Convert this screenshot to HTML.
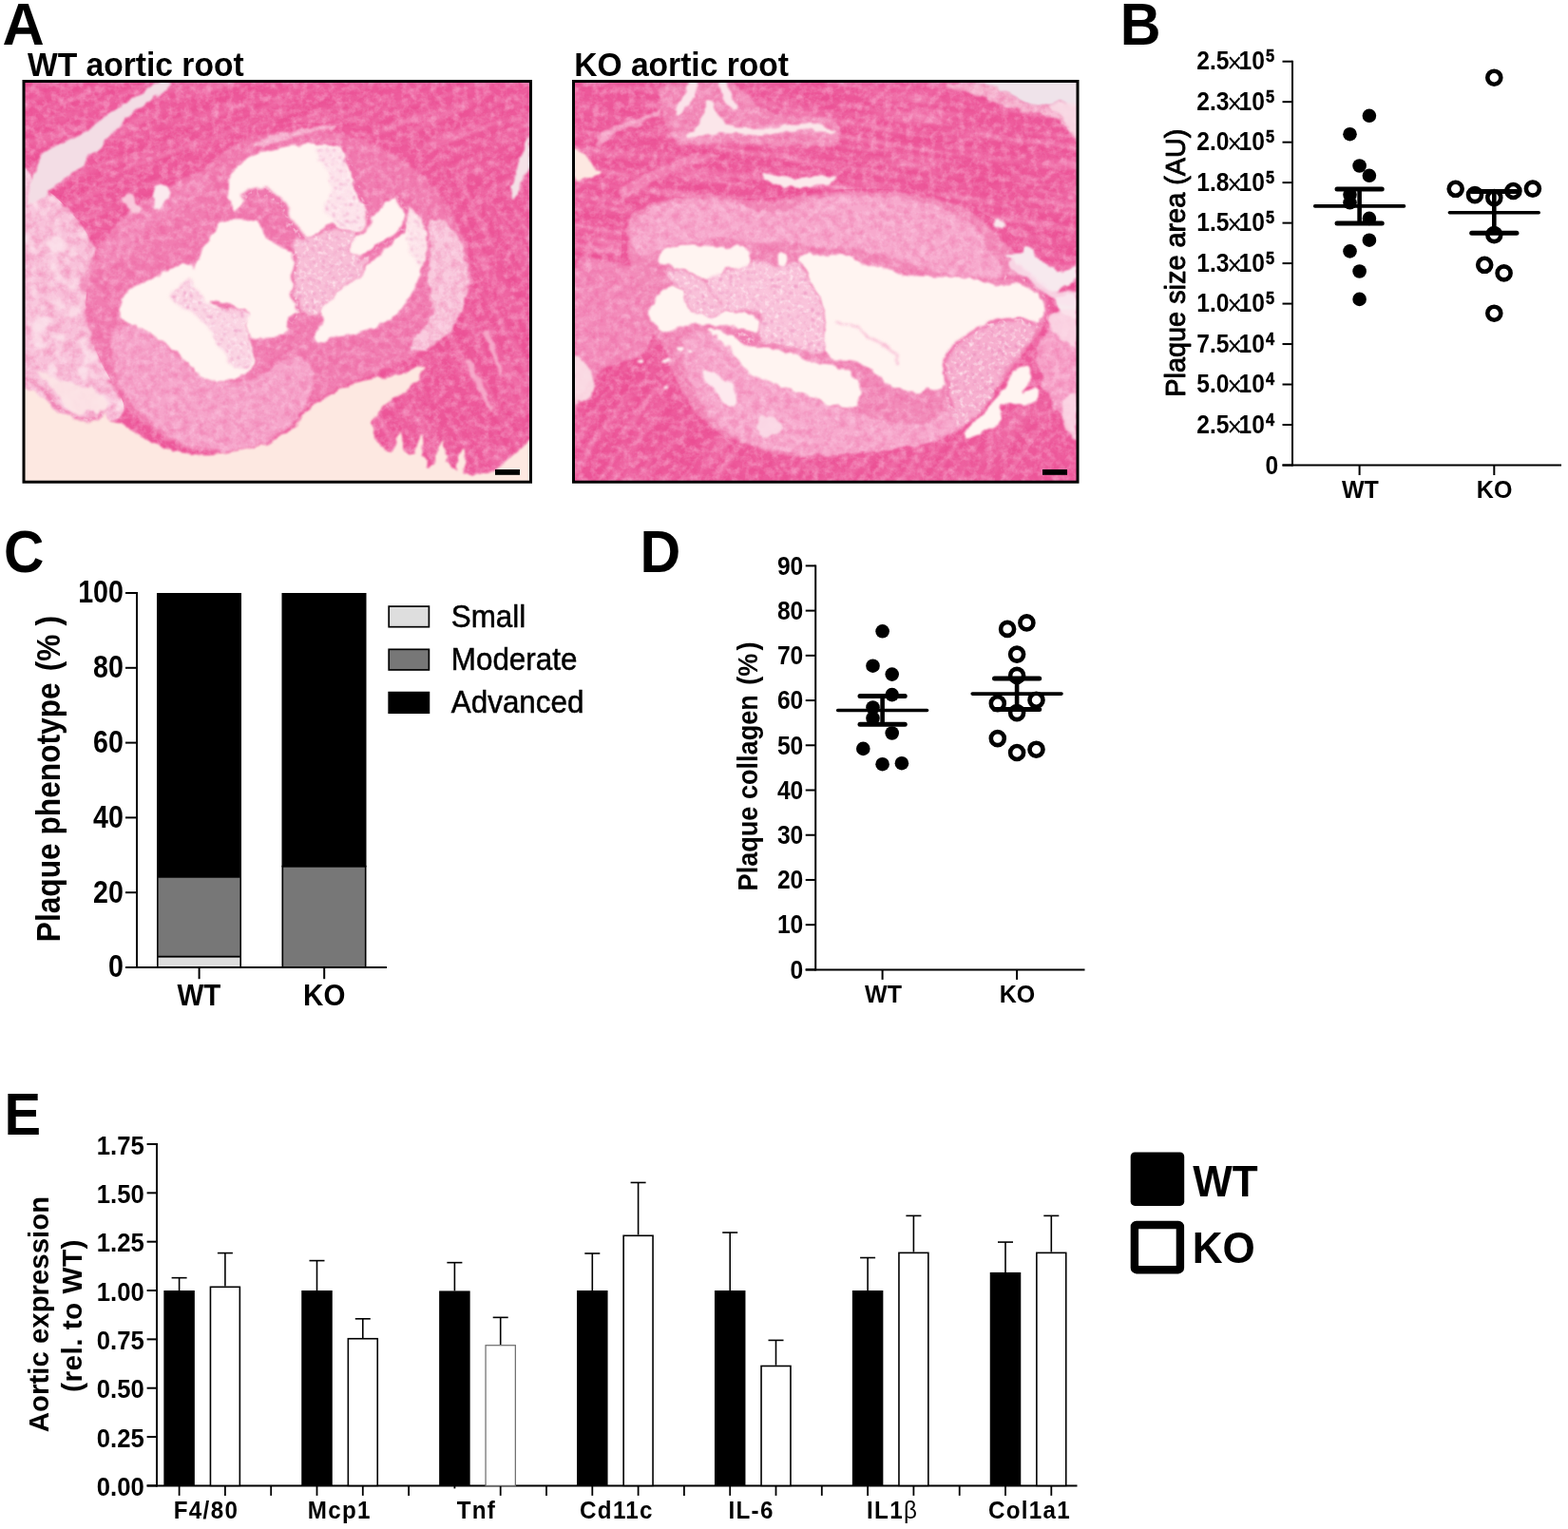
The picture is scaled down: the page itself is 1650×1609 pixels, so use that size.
<!DOCTYPE html>
<html lang="en">
<head>
<meta charset="utf-8">
<title>Figure</title>
<style>
html,body{margin:0;padding:0;background:#fff;}
body{width:1650px;height:1609px;overflow:hidden;}
svg{display:block;font-family:'Liberation Sans', Arial, Helvetica, sans-serif;}
svg text{fill:#000;}
</style>
</head>
<body>
<svg width="1650" height="1609" viewBox="0 0 1650 1609">
<rect width="1650" height="1609" fill="#ffffff"/>
<text transform="translate(2.5 46.5) scale(0.972 1)" font-size="63.0" font-weight="bold">A</text>
<text transform="translate(1178.8 47.0) scale(0.946 1)" font-size="62.6" font-weight="bold">B</text>
<text transform="translate(3.9 601.9) scale(0.937 1)" font-size="62.6" font-weight="bold">C</text>
<text transform="translate(673.6 601.9) scale(0.946 1)" font-size="62.6" font-weight="bold">D</text>
<text transform="translate(4.6 1193.8) scale(0.925 1)" font-size="62.6" font-weight="bold">E</text>
<text transform="translate(29.0 79.6) scale(1 1.04)" font-size="33.6" font-weight="bold" text-anchor="start">WT aortic root</text>
<text transform="translate(604.2 79.6) scale(1 1.04)" font-size="33.6" font-weight="bold" text-anchor="start">KO aortic root</text>
<defs>
<clipPath id="c1"><rect x="25" y="86" width="533.5" height="420.5"/></clipPath>
<clipPath id="c2"><rect x="603.5" y="86" width="530" height="420.5"/></clipPath>
<filter id="soft" x="-5%" y="-5%" width="110%" height="110%" color-interpolation-filters="sRGB">
  <feTurbulence type="fractalNoise" baseFrequency="0.09" numOctaves="2" seed="7" result="t"/>
  <feDisplacementMap in="SourceGraphic" in2="t" scale="8" xChannelSelector="R" yChannelSelector="G" result="d"/>
  <feGaussianBlur in="d" stdDeviation="1.3"/>
</filter>
<filter id="soft2" x="-5%" y="-5%" width="110%" height="110%" color-interpolation-filters="sRGB">
  <feTurbulence type="fractalNoise" baseFrequency="0.05" numOctaves="2" seed="3" result="t"/>
  <feDisplacementMap in="SourceGraphic" in2="t" scale="14" xChannelSelector="R" yChannelSelector="G" result="d"/>
  <feGaussianBlur in="d" stdDeviation="3"/>
</filter>
<filter id="grainL" x="0" y="0" width="100%" height="100%" color-interpolation-filters="sRGB">
  <feTurbulence type="fractalNoise" baseFrequency="0.13" numOctaves="3" seed="11" result="n"/>
  <feColorMatrix in="n" type="matrix" values="0 0 0 0 1  0 0 0 0 0.86  0 0 0 0 0.93  2.2 0 0 0 -0.85"/>
  <feGaussianBlur stdDeviation="0.7"/>
</filter>
<filter id="grainD" x="0" y="0" width="100%" height="100%" color-interpolation-filters="sRGB">
  <feTurbulence type="fractalNoise" baseFrequency="0.12" numOctaves="3" seed="23" result="n"/>
  <feColorMatrix in="n" type="matrix" values="0 0 0 0 0.91  0 0 0 0 0.24  0 0 0 0 0.54  0 2.2 0 0 -0.85"/>
  <feGaussianBlur stdDeviation="0.7"/>
</filter>
<filter id="speck" x="0" y="0" width="100%" height="100%" color-interpolation-filters="sRGB">
  <feTurbulence type="fractalNoise" baseFrequency="0.3" numOctaves="2" seed="5" result="n"/>
  <feColorMatrix in="n" type="matrix" values="0 0 0 0 0.93  0 0 0 0 0.45  0 0 0 0 0.68  0 0 3.4 0 -1.55" result="s"/>
  <feGaussianBlur in="s" stdDeviation="0.5" result="sb"/>
  <feComposite in="sb" in2="SourceGraphic" operator="in"/>
</filter>
<filter id="fiber" x="0" y="0" width="100%" height="100%" color-interpolation-filters="sRGB">
  <feTurbulence type="fractalNoise" baseFrequency="0.01 0.13" numOctaves="3" seed="4" result="n"/>
  <feColorMatrix in="n" type="matrix" values="0 0 0 0 0.99  0 0 0 0 0.80  0 0 0 0 0.89  3 0 0 0 -1.35"/>
  <feGaussianBlur stdDeviation="0.8"/>
</filter>
<filter id="fiberD" x="0" y="0" width="100%" height="100%" color-interpolation-filters="sRGB">
  <feTurbulence type="fractalNoise" baseFrequency="0.01 0.11" numOctaves="3" seed="9" result="n"/>
  <feColorMatrix in="n" type="matrix" values="0 0 0 0 0.90  0 0 0 0 0.20  0 0 0 0 0.50  0 3 0 0 -1.3"/>
  <feGaussianBlur stdDeviation="0.8"/>
</filter>
<filter id="mottle" x="0" y="0" width="100%" height="100%" color-interpolation-filters="sRGB">
  <feTurbulence type="fractalNoise" baseFrequency="0.06" numOctaves="3" seed="31" result="n"/>
  <feColorMatrix in="n" type="matrix" values="0 0 0 0 0.99  0 0 0 0 0.90  0 0 0 0 0.93  4 0 0 0 -1.9" result="m"/>
  <feGaussianBlur in="m" stdDeviation="1" result="mb"/>
  <feComposite in="mb" in2="SourceGraphic" operator="in"/>
</filter>
<filter id="cells" x="-5%" y="-5%" width="110%" height="110%" color-interpolation-filters="sRGB">
  <feTurbulence type="fractalNoise" baseFrequency="0.09" numOctaves="2" seed="7" result="t"/>
  <feDisplacementMap in="SourceGraphic" in2="t" scale="8" xChannelSelector="R" yChannelSelector="G" result="d"/>
  <feGaussianBlur in="d" stdDeviation="1.5" result="b"/>
  <feTurbulence type="fractalNoise" baseFrequency="0.28" numOctaves="2" seed="15" result="n"/>
  <feColorMatrix in="n" type="matrix" values="0 0 0 0 0.88  0 0 0 0 0.40  0 0 0 0 0.66  0 0 3.0 0 -1.72" result="s"/>
  <feGaussianBlur in="s" stdDeviation="0.8" result="sb"/>
  <feComposite in="sb" in2="b" operator="in" result="sp"/>
  <feTurbulence type="fractalNoise" baseFrequency="0.2" numOctaves="2" seed="25" result="n2"/>
  <feColorMatrix in="n2" type="matrix" values="0 0 0 0 1  0 0 0 0 0.95  0 0 0 0 0.96  2.0 0 0 0 -1.0" result="w"/>
  <feGaussianBlur in="w" stdDeviation="0.6" result="wb"/>
  <feComposite in="wb" in2="b" operator="in" result="wp"/>
  <feMerge><feMergeNode in="b"/><feMergeNode in="wp"/><feMergeNode in="sp"/></feMerge>
</filter>
</defs>
<g clip-path="url(#c1)">
<rect x="24" y="85" width="536" height="423" fill="#ee5c9d"/>
<clipPath id="m1a"><path d="M13.3,75.3C108.9,55.9 491.1,57.6 586.7,75.3C682.2,93.1 597.8,159.8 586.7,182.0C575.6,204.2 542.2,211.4 520.0,208.7C497.8,205.9 475.6,177.0 453.3,165.3C431.1,153.7 408.9,144.8 386.7,138.7C364.4,132.6 342.2,128.7 320.0,128.7C297.8,128.7 272.2,132.0 253.3,138.7C234.4,145.3 222.2,155.9 206.7,168.7C191.1,181.4 174.4,203.7 160.0,215.3C145.6,227.0 132.2,235.9 120.0,238.7C107.8,241.4 97.8,238.1 86.7,232.0C75.6,225.9 65.6,208.7 53.3,202.0C41.1,195.3 20.0,213.1 13.3,192.0C6.7,170.9 -82.2,94.8 13.3,75.3Z"/></clipPath>
<g clip-path="url(#m1a)">
<g transform="rotate(-22 290 150)">
<rect x="-160.0" y="-100.0" width="900" height="500" fill="#fff" filter="url(#fiber)" opacity="0.3"/>
<rect x="-160.0" y="-100.0" width="900" height="500" fill="#fff" filter="url(#fiberD)" opacity="0.2"/>
</g>
</g>
<clipPath id="m1b"><path d="M453.3,165.3C460.0,165.3 497.8,205.9 520.0,208.7C542.2,211.4 575.6,130.9 586.7,182.0C597.8,233.1 620.0,459.8 586.7,515.3C553.3,570.9 420.0,532.0 386.7,515.3C353.3,498.7 375.6,439.8 386.7,415.3C397.8,390.9 435.6,385.3 453.3,368.7C471.1,352.0 486.1,334.2 493.3,315.3C500.6,296.4 498.9,273.1 496.7,255.3C494.4,237.6 487.2,223.7 480.0,208.7C472.8,193.7 446.7,165.3 453.3,165.3Z"/></clipPath>
<g clip-path="url(#m1b)">
<g transform="rotate(62 480 350)">
<rect x="130.0" y="100.0" width="700" height="500" fill="#fff" filter="url(#fiber)" opacity="0.3"/>
<rect x="130.0" y="100.0" width="700" height="500" fill="#fff" filter="url(#fiberD)" opacity="0.2"/>
</g>
</g>
<g filter="url(#soft)">
<path d="M20.0,192.0C23.3,156.4 33.3,192.6 40.0,195.3C46.7,198.1 52.2,201.4 60.0,208.7C67.8,215.9 80.0,228.7 86.7,238.7C93.3,248.7 99.2,258.1 100.0,268.7C100.8,279.2 93.1,289.8 91.7,302.0C90.3,314.2 89.2,328.7 91.7,342.0C94.2,355.3 100.3,368.1 106.7,382.0C113.1,395.9 127.8,415.3 130.0,425.3C132.2,435.3 127.2,438.1 120.0,442.0C112.8,445.9 97.8,450.3 86.7,448.7C75.6,447.0 64.4,438.7 53.3,432.0C42.2,425.3 25.6,448.7 20.0,408.7C14.4,368.7 16.7,227.6 20.0,192.0Z" fill="#f8c0d9"/>
<path d="M253.3,148.7C270.0,142.3 297.8,137.0 320.0,137.0C342.2,137.0 367.2,141.7 386.7,148.7C406.1,155.6 422.8,167.6 436.7,178.7C450.6,189.8 461.1,202.6 470.0,215.3C478.9,228.1 486.1,242.0 490.0,255.3C493.9,268.7 495.0,282.0 493.3,295.3C491.7,308.7 486.7,324.2 480.0,335.3C473.3,346.4 463.3,354.2 453.3,362.0C443.3,369.8 433.9,375.3 420.0,382.0C406.1,388.7 383.9,395.9 370.0,402.0C356.1,408.1 345.0,413.7 336.7,418.7C328.3,423.7 325.6,426.4 320.0,432.0C314.4,437.6 311.7,445.3 303.3,452.0C295.0,458.7 281.7,467.8 270.0,472.0C258.3,476.2 246.1,477.3 233.3,477.0C220.6,476.7 205.6,474.5 193.3,470.3C181.1,466.2 170.6,459.5 160.0,452.0C149.4,444.5 138.9,437.0 130.0,425.3C121.1,413.7 113.3,395.9 106.7,382.0C100.0,368.1 93.6,354.2 90.0,342.0C86.4,329.8 84.4,319.2 85.0,308.7C85.6,298.1 87.5,288.7 93.3,278.7C99.2,268.7 110.0,257.6 120.0,248.7C130.0,239.8 141.1,233.7 153.3,225.3C165.6,217.0 182.2,207.0 193.3,198.7C204.4,190.3 210.0,183.7 220.0,175.3C230.0,167.0 236.7,155.1 253.3,148.7Z" fill="#f28bb9" fill-opacity="0.7"/>
<path d="M130.0,268.7C138.3,261.4 149.4,247.6 160.0,238.7C170.6,229.8 183.3,223.1 193.3,215.3C203.3,207.6 217.8,197.6 220.0,192.0C222.2,186.4 213.9,180.9 206.7,182.0C199.4,183.1 186.7,193.1 176.7,198.7C166.7,204.2 156.1,208.7 146.7,215.3C137.2,222.0 127.2,230.9 120.0,238.7C112.8,246.4 105.0,254.8 103.3,262.0C101.7,269.2 105.6,280.9 110.0,282.0C114.4,283.1 121.7,275.9 130.0,268.7Z" fill="#f491be" fill-opacity="0.8"/>
<path d="M120.0,348.7C123.3,340.9 132.8,340.9 140.0,342.0C147.2,343.1 155.6,349.8 163.3,355.3C171.1,360.9 179.4,369.2 186.7,375.3C193.9,381.4 198.9,387.6 206.7,392.0C214.4,396.4 223.3,400.9 233.3,402.0C243.3,403.1 256.7,402.0 266.7,398.7C276.7,395.3 285.6,385.9 293.3,382.0C301.1,378.1 307.2,373.7 313.3,375.3C319.4,377.0 328.9,383.1 330.0,392.0C331.1,400.9 324.4,419.2 320.0,428.7C315.6,438.1 311.7,442.0 303.3,448.7C295.0,455.3 281.7,464.5 270.0,468.7C258.3,472.8 246.1,473.9 233.3,473.7C220.6,473.4 205.0,471.2 193.3,467.0C181.7,462.8 172.8,456.2 163.3,448.7C153.9,441.2 143.9,432.0 136.7,422.0C129.4,412.0 122.8,400.9 120.0,388.7C117.2,376.4 116.7,356.4 120.0,348.7Z" fill="#f6a4ca"/>
<path d="M449.8,234.4C452.0,230.7 459.8,228.8 464.8,230.7C469.7,232.5 475.6,238.8 479.7,245.6C483.7,252.4 487.0,263.0 489.0,271.7C491.0,280.4 492.1,289.1 491.8,297.8C491.5,306.5 489.8,316.1 487.1,323.9C484.5,331.7 480.3,338.5 475.9,344.4C471.6,350.3 466.6,355.0 461.0,359.3C455.4,363.7 447.4,369.6 442.4,370.5C437.4,371.5 431.2,368.3 431.2,364.9C431.2,361.5 438.3,355.6 442.4,350.0C446.4,344.4 453.6,337.6 455.4,331.4C457.3,325.2 454.2,318.9 453.6,312.7C453.0,306.5 451.7,300.9 451.7,294.1C451.7,287.2 453.6,278.5 453.6,271.7C453.6,264.9 452.3,259.3 451.7,253.1C451.1,246.8 447.7,238.1 449.8,234.4Z" fill="#fad3e2" fill-opacity="0.9"/>
<path d="M267.3,150.7C269.5,148.8 278.2,146.1 283.6,144.2C289.1,142.3 294.5,140.6 300.0,139.3C305.5,137.9 310.4,137.1 316.4,136.0C322.4,134.9 330.0,133.5 336.0,132.7C342.0,131.9 350.2,130.5 352.4,131.1C354.5,131.6 352.9,134.6 349.1,136.0C345.3,137.4 336.0,137.9 329.5,139.3C322.9,140.6 316.4,142.3 309.8,144.2C303.3,146.1 296.7,148.8 290.2,150.7C283.6,152.6 274.4,155.6 270.5,155.6C266.7,155.6 265.1,152.6 267.3,150.7Z" fill="#f8c3da" fill-opacity="0.8"/>
</g>
<rect x="24" y="85" width="536" height="423" fill="#fff" filter="url(#grainL)" opacity="0.38"/>
<rect x="24" y="85" width="536" height="423" fill="#fff" filter="url(#grainD)" opacity="0.26"/>
<path d="M20.0,192.0C23.3,156.4 33.3,192.6 40.0,195.3C46.7,198.1 52.2,201.4 60.0,208.7C67.8,215.9 80.0,228.7 86.7,238.7C93.3,248.7 99.2,258.1 100.0,268.7C100.8,279.2 93.1,289.8 91.7,302.0C90.3,314.2 89.2,328.7 91.7,342.0C94.2,355.3 100.3,368.1 106.7,382.0C113.1,395.9 127.8,415.3 130.0,425.3C132.2,435.3 127.2,438.1 120.0,442.0C112.8,445.9 97.8,450.3 86.7,448.7C75.6,447.0 64.4,438.7 53.3,432.0C42.2,425.3 25.6,448.7 20.0,408.7C14.4,368.7 16.7,227.6 20.0,192.0Z" fill="#fff" filter="url(#mottle)" opacity="0.8"/>
<g filter="url(#soft)">
<path d="M12.5,406.5C13.0,390.3 22.1,407.3 25.6,408.3C29.1,409.3 35.2,411.9 38.6,413.9C42.1,415.9 48.7,420.7 51.7,423.2C54.7,425.7 57.8,430.6 61.0,432.6C64.3,434.5 72.0,436.8 75.9,438.1C79.9,439.5 87.1,442.6 90.9,442.8C94.6,443.1 101.4,441.1 103.9,440.0C106.4,438.9 108.3,434.2 109.5,434.4C110.7,434.7 111.2,440.4 113.2,441.9C115.2,443.4 120.9,444.1 124.4,445.6C127.9,447.1 135.4,450.8 139.3,453.1C143.3,455.3 149.8,459.9 154.2,462.4C158.7,464.9 167.9,469.8 172.9,471.7C177.9,473.6 185.8,475.5 191.5,476.4C197.3,477.2 208.8,478.4 215.8,478.2C222.7,478.1 236.3,476.6 243.7,475.4C251.2,474.3 265.5,471.6 271.7,469.8C277.9,468.1 285.9,464.6 290.4,462.4C294.8,460.2 302.0,455.6 305.3,453.1C308.5,450.6 314.0,444.5 314.6,443.7C315.2,443.0 309.1,448.3 309.8,447.3C310.5,446.2 317.2,438.4 319.6,435.8C322.0,433.2 325.2,429.8 327.8,427.6C330.4,425.5 335.8,421.6 339.3,419.5C342.8,417.3 349.9,413.2 354.0,411.3C358.1,409.3 366.0,406.3 370.4,404.7C374.7,403.2 382.1,400.9 386.7,399.8C391.3,398.7 400.1,397.4 404.7,396.5C409.3,395.7 416.9,394.4 421.1,393.3C425.2,392.2 432.5,389.5 435.8,388.4C439.1,387.3 444.5,384.4 445.6,385.1C446.7,385.7 444.9,391.1 444.0,393.3C443.1,395.5 441.1,399.5 439.1,401.5C437.1,403.4 432.1,406.0 429.3,408.0C426.4,410.0 420.9,413.8 417.8,416.2C414.8,418.6 409.2,423.4 406.4,426.0C403.5,428.6 398.7,433.2 396.5,435.8C394.4,438.4 390.4,443.0 390.0,445.6C389.6,448.3 392.2,452.8 393.3,455.5C394.4,458.1 396.4,462.9 398.2,465.3C399.9,467.7 404.2,471.9 406.4,473.5C408.5,475.0 412.1,476.7 414.5,476.7C416.9,476.7 422.2,473.2 424.4,473.5C426.5,473.7 428.9,477.9 430.9,478.4C432.9,478.8 436.9,476.1 439.1,476.7C441.3,477.4 445.7,481.3 447.3,483.3C448.8,485.2 449.2,490.8 450.5,491.5C451.9,492.1 455.3,489.3 457.1,488.2C458.8,487.1 461.7,483.3 463.6,483.3C465.6,483.3 469.6,486.7 471.8,488.2C474.0,489.7 477.6,493.3 480.0,494.7C482.4,496.1 487.0,498.2 489.8,498.8C492.7,499.5 498.2,500.0 501.3,499.6C504.3,499.3 510.1,497.2 512.7,496.4C515.3,495.5 518.3,494.6 520.9,493.1C523.5,491.6 529.5,487.1 532.4,484.9C535.2,482.7 539.8,478.7 542.2,476.7C544.6,474.8 547.3,472.1 550.4,470.2C553.4,468.2 561.4,456.3 565.1,462.0C568.8,467.7 650.6,503.8 578.2,512.7C505.7,521.7 97.2,543.3 21.8,529.1C-53.6,514.9 12.0,422.6 12.5,406.5Z" fill="#fde8e1"/>
<path d="M412.9,478.4C412.4,476.4 416.6,466.9 417.8,463.6C419.0,460.4 421.0,453.8 421.9,453.8C422.8,453.8 424.4,460.4 424.4,463.6C424.4,466.9 423.4,476.4 421.9,478.4C420.4,480.3 413.5,480.3 412.9,478.4Z" fill="#fde8e1"/>
<path d="M435.8,480.0C435.4,477.8 438.0,468.3 439.1,465.3C440.2,462.2 443.1,456.4 444.0,457.1C444.9,457.7 445.9,466.9 445.6,470.2C445.4,473.5 443.7,480.3 442.4,481.6C441.1,482.9 436.3,482.2 435.8,480.0Z" fill="#fde8e1"/>
<path d="M457.1,491.5C456.5,489.1 460.1,477.2 461.2,473.5C462.3,469.7 464.3,463.2 465.3,463.6C466.3,464.1 468.5,473.0 468.5,476.7C468.5,480.4 466.8,489.5 465.3,491.5C463.7,493.4 457.6,493.9 457.1,491.5Z" fill="#fde8e1"/>
<path d="M480.0,496.4C479.6,494.0 482.2,483.3 483.3,480.0C484.4,476.7 487.3,471.2 488.2,471.8C489.1,472.5 490.0,481.4 489.8,484.9C489.6,488.4 487.9,496.5 486.5,498.0C485.2,499.5 480.4,498.8 480.0,496.4Z" fill="#fde8e1"/>
<path d="M493.1,378.5C495.0,380.2 498.3,386.2 501.3,391.6C504.3,397.1 508.4,404.7 511.1,411.3C513.8,417.8 517.1,427.4 517.6,430.9C518.2,434.5 516.3,435.3 514.4,432.5C512.5,429.8 509.2,420.8 506.2,414.5C503.2,408.3 499.1,400.4 496.4,394.9C493.6,389.5 490.4,384.5 489.8,381.8C489.3,379.1 491.2,376.9 493.1,378.5Z" fill="#f7b5d1" fill-opacity="0.8"/>
<path d="M512.7,349.1C514.6,351.8 518.2,361.6 520.9,368.7C523.6,375.8 528.3,387.5 529.1,391.6C529.9,395.7 527.7,396.5 525.8,393.3C523.9,390.0 520.4,378.8 517.6,372.0C514.9,365.2 510.3,356.2 509.5,352.4C508.6,348.5 510.8,346.4 512.7,349.1Z" fill="#f7b5d1" fill-opacity="0.8"/>
<path d="M38.6,391.5C40.5,390.9 51.1,395.0 57.3,397.1C63.5,399.3 69.7,402.7 75.9,404.6C82.2,406.5 89.3,406.5 94.6,408.3C99.9,410.2 104.5,413.0 107.6,415.8C110.7,418.6 113.2,422.0 113.2,425.1C113.2,428.2 110.7,433.2 107.6,434.4C104.5,435.7 98.9,432.2 94.6,432.6C90.2,432.9 85.3,436.6 81.5,436.3C77.8,436.0 75.0,433.2 72.2,430.7C69.4,428.2 67.2,424.8 64.7,421.4C62.3,418.0 60.4,413.6 57.3,410.2C54.2,406.8 49.2,404.0 46.1,400.9C43.0,397.8 36.8,392.2 38.6,391.5Z" fill="#fce4e6" fill-opacity="0.9"/>
<path d="M240.1,191.5C241.6,187.5 244.6,181.0 248.5,176.6C252.4,172.3 257.5,168.5 263.4,165.4C269.3,162.3 276.4,160.0 283.9,158.0C291.4,155.9 300.4,154.3 308.1,153.3C315.9,152.3 324.0,152.2 330.5,152.0C337.0,151.8 342.6,151.7 347.3,152.4C352.0,153.1 355.7,153.9 358.5,156.1C361.3,158.3 362.5,161.7 364.1,165.4C365.6,169.2 366.6,173.8 367.8,178.5C369.1,183.1 370.0,188.4 371.5,193.4C373.1,198.4 375.0,204.0 377.1,208.3C379.3,212.7 382.7,215.8 384.6,219.5C386.5,223.2 388.3,227.0 388.3,230.7C388.3,234.4 386.8,239.4 384.6,241.9C382.4,244.4 378.7,245.9 375.3,245.6C371.8,245.3 368.4,241.6 364.1,240.0C359.7,238.5 353.5,236.0 349.2,236.3C344.8,236.6 341.4,239.7 338.0,241.9C334.6,244.0 331.8,248.1 328.7,249.3C325.5,250.6 322.4,250.6 319.3,249.3C316.2,248.1 312.5,245.0 310.0,241.9C307.5,238.8 306.0,234.4 304.4,230.7C302.9,227.0 302.5,222.9 300.7,219.5C298.8,216.1 296.3,213.0 293.2,210.2C290.1,207.4 285.8,204.3 282.0,202.7C278.3,201.2 274.3,200.5 270.9,200.9C267.4,201.2 263.7,202.7 261.5,204.6C259.4,206.4 259.4,209.9 257.8,212.0C256.2,214.2 254.1,216.1 252.2,217.6C250.3,219.2 248.2,222.3 246.6,221.4C245.1,220.4 244.1,215.5 242.9,212.0C241.6,208.6 239.6,204.3 239.2,200.9C238.7,197.4 238.5,195.6 240.1,191.5Z" fill="#fff4f1"/>
<path d="M232.6,233.5C236.7,231.2 243.0,231.8 248.5,231.6C253.9,231.4 261.4,231.6 265.3,232.2C269.1,232.8 269.9,233.4 271.8,235.3C273.6,237.3 274.1,240.6 276.4,243.7C278.8,246.8 282.3,251.2 285.8,254.0C289.2,256.8 293.1,258.5 297.0,260.5C300.8,262.5 306.6,263.3 309.1,266.1C311.6,268.9 312.2,273.6 311.9,277.3C311.6,281.0 307.5,284.4 307.2,288.5C306.9,292.5 310.0,297.5 310.0,301.5C310.0,305.6 306.9,309.6 307.2,312.7C307.5,315.8 310.3,317.7 311.9,320.2C313.4,322.7 317.2,325.6 316.5,327.6C315.9,329.7 310.5,330.1 308.1,332.3C305.8,334.5 303.3,337.9 302.5,340.7C301.8,343.5 305.0,346.9 303.5,349.1C301.9,351.3 297.1,352.7 293.2,353.7C289.3,354.8 284.5,355.1 280.2,355.6C275.8,356.1 270.2,357.5 267.1,356.5C264.0,355.6 263.1,353.0 261.5,350.0C260.0,347.1 257.8,342.6 257.8,338.8C257.8,335.1 262.2,330.1 261.5,327.6C260.9,325.2 256.9,325.2 254.1,323.9C251.3,322.7 247.9,321.1 244.7,320.2C241.6,319.2 238.2,318.9 235.4,318.3C232.6,317.7 230.5,316.5 228.0,316.5C225.5,316.5 222.4,316.8 220.5,318.3C218.6,319.9 218.3,324.8 216.8,325.8C215.2,326.7 213.1,326.1 211.2,323.9C209.3,321.7 207.0,317.1 205.6,312.7C204.2,308.4 203.1,302.5 202.8,297.8C202.5,293.1 202.6,289.1 203.7,284.8C204.8,280.4 207.1,276.1 209.3,271.7C211.5,267.4 214.3,263.0 216.8,258.7C219.3,254.3 221.6,249.8 224.2,245.6C226.9,241.4 228.6,235.8 232.6,233.5Z" fill="#fff4f1"/>
<path d="M124.4,324.4C124.7,320.1 128.1,313.8 131.9,309.5C135.6,305.1 141.2,301.7 146.8,298.3C152.4,294.9 159.2,291.8 165.4,289.0C171.6,286.2 178.8,283.4 184.1,281.5C189.4,279.7 193.7,277.2 197.1,277.8C200.5,278.4 202.7,281.8 204.6,285.3C206.5,288.7 206.1,293.6 208.3,298.3C210.5,303.0 214.2,308.9 217.6,313.2C221.1,317.6 224.5,321.3 228.8,324.4C233.2,327.5 238.5,331.2 243.7,331.9C249.0,332.5 258.3,326.6 260.5,328.1C262.7,329.7 256.5,336.8 256.8,341.2C257.1,345.5 260.8,349.6 262.4,354.2C263.9,358.9 265.2,364.5 266.1,369.2C267.0,373.8 268.9,378.8 268.0,382.2C267.0,385.6 263.6,387.2 260.5,389.7C257.4,392.2 253.7,395.3 249.3,397.1C245.0,399.0 239.7,400.5 234.4,400.9C229.1,401.2 222.9,401.2 217.6,399.0C212.4,396.8 207.1,391.2 202.7,387.8C198.4,384.4 195.3,381.9 191.5,378.5C187.8,375.1 184.4,370.7 180.3,367.3C176.3,363.9 171.6,361.1 167.3,358.0C162.9,354.9 158.9,351.4 154.2,348.7C149.6,345.9 143.4,343.4 139.3,341.2C135.3,339.0 132.5,338.4 130.0,335.6C127.5,332.8 124.1,328.8 124.4,324.4Z" fill="#fff4f1"/>
<path d="M388.3,230.7C390.5,227.3 394.5,226.0 397.6,223.2C400.7,220.4 403.9,216.4 407.0,213.9C410.1,211.4 413.5,207.4 416.3,208.3C419.1,209.2 422.3,214.8 423.7,219.5C425.1,224.2 426.2,231.6 424.7,236.3C423.1,240.9 418.3,244.4 414.4,247.5C410.5,250.6 405.4,252.4 401.4,254.9C397.3,257.4 393.9,260.2 390.2,262.4C386.5,264.6 382.7,267.4 379.0,268.0C375.3,268.6 368.4,269.2 367.8,266.1C367.2,263.0 372.5,253.1 375.3,249.3C378.1,245.6 382.4,246.8 384.6,243.7C386.8,240.6 386.1,234.1 388.3,230.7Z" fill="#fff4f1"/>
<path d="M429.3,219.5C431.5,218.9 437.7,223.2 440.5,227.0C443.3,230.7 444.9,236.3 446.1,241.9C447.4,247.5 448.3,254.3 448.0,260.5C447.7,266.7 445.8,272.9 444.3,279.2C442.7,285.4 440.8,292.2 438.7,297.8C436.5,303.4 434.3,307.8 431.2,312.7C428.1,317.7 424.4,323.3 420.0,327.6C415.7,332.0 410.7,335.7 405.1,338.8C399.5,341.9 392.7,344.1 386.5,346.3C380.2,348.5 374.0,350.3 367.8,351.9C361.6,353.4 354.4,354.1 349.2,355.6C343.9,357.2 339.2,361.5 336.1,361.2C333.0,360.9 330.8,356.5 330.5,353.7C330.2,350.9 332.4,347.5 334.2,344.4C336.1,341.3 341.1,337.9 341.7,335.1C342.3,332.3 337.4,330.7 338.0,327.6C338.6,324.5 342.6,319.9 345.4,316.5C348.2,313.0 351.0,310.2 354.8,307.1C358.5,304.0 363.8,300.6 367.8,297.8C371.8,295.0 375.9,293.5 379.0,290.3C382.1,287.2 384.0,282.0 386.5,279.2C388.9,276.4 391.1,276.1 393.9,273.6C396.7,271.1 399.8,267.4 403.2,264.2C406.7,261.1 410.7,258.7 414.4,254.9C418.1,251.2 423.4,245.9 425.6,241.9C427.8,237.8 426.9,234.4 427.5,230.7C428.1,227.0 427.2,220.1 429.3,219.5Z" fill="#fff4f1"/>
<path d="M30.0,202.0C31.1,195.6 35.6,182.3 38.3,175.3C41.1,168.4 42.8,164.2 46.7,160.3C50.6,156.4 56.1,154.8 61.7,152.0C67.2,149.2 73.9,147.0 80.0,143.7C86.1,140.3 92.8,135.9 98.3,132.0C103.9,128.1 108.3,123.9 113.3,120.3C118.3,116.7 123.3,113.4 128.3,110.3C133.3,107.3 139.2,104.8 143.3,102.0C147.5,99.2 150.0,96.0 153.3,93.7C156.7,91.3 158.9,88.9 163.3,87.8C167.8,86.7 178.9,85.5 180.0,87.0C181.1,88.5 173.9,93.7 170.0,97.0C166.1,100.3 161.1,103.9 156.7,107.0C152.2,110.1 147.8,112.0 143.3,115.3C138.9,118.7 134.4,122.8 130.0,127.0C125.6,131.2 120.6,135.9 116.7,140.3C112.8,144.8 110.6,149.5 106.7,153.7C102.8,157.8 97.8,161.2 93.3,165.3C88.9,169.5 84.7,174.5 80.0,178.7C75.3,182.8 70.0,186.4 65.0,190.3C60.0,194.2 54.2,198.7 50.0,202.0C45.8,205.3 43.1,208.4 40.0,210.3C36.9,212.3 33.3,215.1 31.7,213.7C30.0,212.3 28.9,208.4 30.0,202.0Z" fill="#f3dde5"/>
<path d="M160.0,202.0C160.8,199.5 164.2,196.4 166.7,195.3C169.2,194.2 173.1,194.2 175.0,195.3C176.9,196.4 178.6,199.2 178.3,202.0C178.1,204.8 175.3,208.9 173.3,212.0C171.4,215.1 168.6,219.2 166.7,220.3C164.7,221.4 162.5,220.3 161.7,218.7C160.8,217.0 161.9,213.1 161.7,210.3C161.4,207.6 159.2,204.5 160.0,202.0Z" fill="#fbe9ee"/>
<path d="M128.3,205.3C129.4,203.7 134.4,202.6 136.7,203.7C138.9,204.8 139.7,209.5 141.7,212.0C143.6,214.5 148.1,216.7 148.3,218.7C148.6,220.6 145.6,223.7 143.3,223.7C141.1,223.7 137.2,220.3 135.0,218.7C132.8,217.0 131.1,215.9 130.0,213.7C128.9,211.4 127.2,207.0 128.3,205.3Z" fill="#f9d3e1" fill-opacity="0.9"/>
<path d="M545.5,170.4C546.5,167.1 549.0,164.4 550.4,160.5C551.7,156.7 552.4,150.2 553.6,147.5C554.9,144.7 557.1,139.8 557.7,144.2C558.4,148.5 558.7,166.5 557.7,173.6C556.8,180.7 554.1,182.4 552.0,186.7C550.0,191.1 547.4,196.0 545.5,199.8C543.5,203.6 541.9,208.5 540.5,209.6C539.2,210.7 537.3,209.1 537.3,206.4C537.3,203.6 539.5,197.6 540.5,193.3C541.6,188.9 543.0,184.0 543.8,180.2C544.6,176.4 544.4,173.6 545.5,170.4Z" fill="#f4e1e7"/>
</g>
<g filter="url(#cells)">
<path d="M334.2,156.1C338.3,154.5 354.8,153.0 360.3,158.0C365.9,162.9 364.7,176.6 367.8,185.9C370.9,195.3 375.9,206.4 379.0,213.9C382.1,221.4 387.1,226.0 386.5,230.7C385.8,235.3 380.9,241.2 375.3,241.9C369.7,242.5 358.5,238.1 352.9,234.4C347.3,230.7 342.3,225.1 341.7,219.5C341.1,213.9 348.5,207.1 349.2,200.9C349.8,194.6 347.6,187.8 345.4,182.2C343.3,176.6 338.0,171.6 336.1,167.3C334.2,162.9 330.2,157.7 334.2,156.1Z" fill="#fce0ea" fill-opacity="0.8"/>
<path d="M178.5,313.2C177.6,309.5 184.4,305.1 187.8,302.0C191.2,298.9 195.9,294.3 199.0,294.6C202.1,294.9 203.3,300.2 206.5,303.9C209.6,307.6 213.6,313.2 217.6,317.0C221.7,320.7 225.7,325.0 230.7,326.3C235.7,327.5 242.5,324.1 247.5,324.4C252.4,324.7 259.0,325.3 260.5,328.1C262.1,330.9 256.5,336.8 256.8,341.2C257.1,345.5 260.8,349.6 262.4,354.2C263.9,358.9 265.8,364.5 266.1,369.2C266.4,373.8 266.1,379.1 264.3,382.2C262.4,385.3 258.3,387.5 254.9,387.8C251.5,388.1 247.2,387.2 243.7,384.1C240.3,381.0 237.5,374.1 234.4,369.2C231.3,364.2 227.9,358.6 225.1,354.2C222.3,349.9 220.7,346.8 217.6,343.1C214.5,339.3 210.5,335.0 206.5,331.9C202.4,328.8 198.1,327.5 193.4,324.4C188.7,321.3 179.4,317.0 178.5,313.2Z" fill="#fbd3e3" fill-opacity="0.92"/>
<path d="M429.3,219.5C431.4,217.0 437.7,223.2 440.5,227.0C443.3,230.7 444.9,236.3 446.1,241.9C447.4,247.5 448.3,254.3 448.0,260.5C447.7,266.7 446.4,276.7 444.3,279.2C442.1,281.6 437.4,278.5 434.9,275.4C432.4,272.3 430.4,266.1 429.3,260.5C428.2,254.9 428.4,248.7 428.4,241.9C428.4,235.0 427.3,222.0 429.3,219.5Z" fill="#fbdbe6" fill-opacity="0.6"/>
<path d="M311.9,249.3C315.3,246.8 324.9,250.6 330.5,249.3C336.1,248.1 339.8,243.1 345.4,241.9C351.0,240.6 359.1,240.6 364.1,241.9C369.1,243.1 374.6,245.3 375.3,249.3C375.9,253.4 365.9,262.7 367.8,266.1C369.7,269.5 384.6,265.8 386.5,269.8C388.3,273.9 382.1,285.7 379.0,290.3C375.9,295.0 371.8,295.0 367.8,297.8C363.8,300.6 358.5,304.0 354.8,307.1C351.0,310.2 348.2,313.0 345.4,316.5C342.6,319.9 340.5,324.8 338.0,327.6C335.5,330.4 333.6,333.2 330.5,333.2C327.4,333.2 322.4,330.1 319.3,327.6C316.2,325.2 313.7,321.4 311.9,318.3C310.0,315.2 308.5,312.4 308.1,309.0C307.8,305.6 310.0,301.5 310.0,297.8C310.0,294.1 307.8,290.3 308.1,286.6C308.5,282.9 311.6,279.2 311.9,275.4C312.2,271.7 310.0,268.6 310.0,264.2C310.0,259.9 308.5,251.8 311.9,249.3Z" fill="#f9c4da" fill-opacity="0.92"/>
<path d="M364.1,165.4C365.6,168.8 370.9,179.4 373.4,185.9C375.9,192.5 376.8,198.4 379.0,204.6C381.2,210.8 384.8,218.3 386.5,223.2C388.1,228.2 389.3,231.2 388.7,234.4C388.1,237.7 385.0,240.6 382.7,242.8C380.5,245.0 376.5,246.7 375.3,247.5" fill="none" stroke="#ef6fa9" stroke-width="3" stroke-linecap="round" stroke-linejoin="round"/>
<path d="M418.1,208.3C419.5,210.8 424.9,218.1 426.0,223.2C427.1,228.4 426.9,234.4 424.7,239.1C422.4,243.7 416.8,247.9 412.6,251.2C408.4,254.5 403.9,255.9 399.5,258.7C395.2,261.4 389.9,265.7 386.5,268.0C383.0,270.2 380.2,271.4 379.0,272.1" fill="none" stroke="#ef6fa9" stroke-width="2.6" stroke-linecap="round" stroke-linejoin="round"/>
<path d="M257.8,206.4C258.9,205.7 261.5,202.6 264.3,201.8C267.1,201.0 271.3,201.3 274.6,201.8C277.8,202.3 280.8,202.9 283.9,204.6C287.0,206.3 290.4,209.2 293.2,212.0C296.0,214.8 298.8,218.1 300.7,221.4C302.5,224.6 302.9,228.2 304.4,231.6C306.0,235.0 307.5,238.8 310.0,241.9C312.5,245.0 317.8,248.9 319.3,250.3" fill="none" stroke="#ef78ae" stroke-width="7" stroke-linecap="round" stroke-linejoin="round"/>
<path d="M309.1,266.1C309.5,268.0 312.1,273.6 311.9,277.3C311.6,281.0 307.9,284.4 307.6,288.5C307.3,292.5 310.0,297.5 310.0,301.5C310.0,305.6 307.2,309.6 307.6,312.7C308.0,315.8 310.7,317.7 312.2,320.2C313.8,322.7 317.3,325.5 316.9,327.6C316.5,329.8 312.1,331.1 310.0,333.2C307.9,335.4 305.3,339.4 304.4,340.7" fill="none" stroke="#ef78ae" stroke-width="3" stroke-linecap="round" stroke-linejoin="round"/>
<path d="M25.6,397.1C28.4,398.7 37.1,401.8 42.4,406.5C47.7,411.1 51.7,420.0 57.3,425.1C62.9,430.2 69.7,434.4 75.9,437.2C82.2,440.0 89.3,442.3 94.6,441.9C99.9,441.4 105.5,435.7 107.6,434.4" fill="none" stroke="#f080b2" stroke-width="3" stroke-linecap="round" stroke-linejoin="round"/>
</g>
</g>
<g clip-path="url(#c2)">
<rect x="602" y="85" width="534" height="423" fill="#ee5c9d"/>
<clipPath id="m2a"><path d="M591.3,75.3C686.9,38.1 1069.1,35.3 1164.7,75.3C1260.2,115.3 1175.8,280.9 1164.7,315.3C1153.6,349.8 1117.4,295.9 1098.0,282.0C1078.6,268.1 1067.4,244.8 1048.0,232.0C1028.6,219.2 1006.3,210.9 981.3,205.3C956.3,199.8 928.6,198.1 898.0,198.7C867.4,199.2 831.3,207.0 798.0,208.7C764.7,210.3 721.3,204.8 698.0,208.7C674.7,212.6 666.3,219.8 658.0,232.0C649.7,244.2 659.1,270.9 648.0,282.0C636.9,293.1 600.8,333.1 591.3,298.7C581.9,264.2 495.8,112.6 591.3,75.3Z"/></clipPath>
<g clip-path="url(#m2a)">
<g transform="rotate(8 870 170)">
<rect x="420.0" y="-80.0" width="900" height="500" fill="#fff" filter="url(#fiber)" opacity="0.4"/>
<rect x="420.0" y="-80.0" width="900" height="500" fill="#fff" filter="url(#fiberD)" opacity="0.2"/>
</g>
</g>
<clipPath id="m2b"><path d="M591.3,298.7C600.8,258.7 634.1,278.1 648.0,282.0C661.9,285.9 666.3,307.6 674.7,322.0C683.0,336.4 689.7,351.4 698.0,368.7C706.3,385.9 713.6,409.8 724.7,425.3C735.8,440.9 746.9,452.6 764.7,462.0C782.4,471.4 803.6,479.2 831.3,482.0C859.1,484.8 898.0,484.2 931.3,478.7C964.7,473.1 1003.6,459.2 1031.3,448.7C1059.1,438.1 1075.8,420.9 1098.0,415.3C1120.2,409.8 1153.6,397.6 1164.7,415.3C1175.8,433.1 1260.2,504.2 1164.7,522.0C1069.1,539.8 686.9,559.2 591.3,522.0C495.8,484.8 581.9,338.7 591.3,298.7Z"/></clipPath>
<g clip-path="url(#m2b)">
<g transform="rotate(-55 800 440)">
<rect x="350.0" y="190.0" width="900" height="500" fill="#fff" filter="url(#fiber)" opacity="0.3"/>
<rect x="350.0" y="190.0" width="900" height="500" fill="#fff" filter="url(#fiberD)" opacity="0.2"/>
</g>
</g>
<g filter="url(#soft)">
<path d="M605.1,283.0C609.9,260.7 623.5,274.5 633.9,274.5C644.4,274.5 658.8,278.8 667.9,283.0C676.9,287.3 683.7,292.9 688.2,300.0C692.8,307.1 695.0,317.0 695.0,325.5C695.0,333.9 691.4,343.0 688.2,350.9C685.1,358.8 681.7,368.2 676.4,373.0C671.0,377.8 663.1,377.2 656.0,379.8C648.9,382.3 639.9,384.6 633.9,388.2C628.0,391.9 625.2,398.4 620.4,401.8C615.6,405.2 607.6,428.4 605.1,408.6C602.5,388.8 600.3,305.4 605.1,283.0Z" fill="#f38fbc" fill-opacity="0.9"/>
<path d="M664.7,225.3C670.8,219.2 684.1,215.3 698.0,212.0C711.9,208.7 731.3,205.3 748.0,205.3C764.7,205.3 784.1,211.4 798.0,212.0C811.9,212.6 817.4,210.3 831.3,208.7C845.2,207.0 864.7,203.1 881.3,202.0C898.0,200.9 914.7,200.9 931.3,202.0C948.0,203.1 965.8,204.8 981.3,208.7C996.9,212.6 1011.9,217.6 1024.7,225.3C1037.4,233.1 1048.6,245.9 1058.0,255.3C1067.4,264.8 1074.1,272.0 1081.3,282.0C1088.6,292.0 1098.6,305.3 1101.3,315.3C1104.1,325.3 1101.3,333.7 1098.0,342.0C1094.7,350.3 1086.9,357.6 1081.3,365.3C1075.8,373.1 1071.3,380.3 1064.7,388.7C1058.0,397.0 1049.7,406.4 1041.3,415.3C1033.0,424.2 1024.7,434.8 1014.7,442.0C1004.7,449.2 995.2,453.7 981.3,458.7C967.4,463.7 948.0,468.7 931.3,472.0C914.7,475.3 898.0,477.6 881.3,478.7C864.7,479.8 847.4,480.3 831.3,478.7C815.2,477.0 798.6,473.7 784.7,468.7C770.8,463.7 758.0,456.4 748.0,448.7C738.0,440.9 731.3,431.4 724.7,422.0C718.0,412.6 712.4,401.4 708.0,392.0C703.6,382.6 701.9,373.7 698.0,365.3C694.1,357.0 688.6,350.3 684.7,342.0C680.8,333.7 678.0,325.3 674.7,315.3C671.3,305.3 666.9,293.1 664.7,282.0C662.4,270.9 661.3,258.1 661.3,248.7C661.3,239.2 658.6,231.4 664.7,225.3Z" fill="#f28bb9"/>
<path d="M668.0,235.3C673.6,228.7 686.3,219.8 698.0,215.3C709.7,210.9 725.8,209.2 738.0,208.7C750.2,208.1 761.3,209.8 771.3,212.0C781.3,214.2 789.1,220.3 798.0,222.0C806.9,223.7 815.8,223.7 824.7,222.0C833.6,220.3 839.1,214.8 851.3,212.0C863.6,209.2 881.9,205.9 898.0,205.3C914.1,204.8 932.4,206.4 948.0,208.7C963.6,210.9 978.6,213.7 991.3,218.7C1004.1,223.7 1015.8,230.3 1024.7,238.7C1033.6,247.0 1039.1,260.3 1044.7,268.7C1050.2,277.0 1060.2,284.8 1058.0,288.7C1055.8,292.6 1041.3,292.0 1031.3,292.0C1021.3,292.0 1009.1,290.9 998.0,288.7C986.9,286.4 975.8,282.0 964.7,278.7C953.6,275.3 942.4,271.4 931.3,268.7C920.2,265.9 909.1,263.1 898.0,262.0C886.9,260.9 875.8,263.1 864.7,262.0C853.6,260.9 842.4,256.4 831.3,255.3C820.2,254.2 809.1,255.9 798.0,255.3C786.9,254.8 775.8,252.0 764.7,252.0C753.6,252.0 742.4,253.7 731.3,255.3C720.2,257.0 706.9,259.8 698.0,262.0C689.1,264.2 683.6,269.8 678.0,268.7C672.4,267.6 666.3,260.9 664.7,255.3C663.0,249.8 662.4,242.0 668.0,235.3Z" fill="#f7a9cd"/>
<path d="M721.3,358.7C724.7,352.0 734.1,348.7 741.3,348.7C748.6,348.7 757.4,353.1 764.7,358.7C771.9,364.2 776.9,374.8 784.7,382.0C792.4,389.2 801.3,396.4 811.3,402.0C821.3,407.6 833.0,410.9 844.7,415.3C856.3,419.8 869.7,424.8 881.3,428.7C893.0,432.6 903.6,435.9 914.7,438.7C925.8,441.4 938.0,444.2 948.0,445.3C958.0,446.4 966.3,447.0 974.7,445.3C983.0,443.7 990.8,435.9 998.0,435.3C1005.2,434.8 1018.0,438.1 1018.0,442.0C1018.0,445.9 1006.9,454.2 998.0,458.7C989.1,463.1 978.6,465.9 964.7,468.7C950.8,471.4 931.3,473.7 914.7,475.3C898.0,477.0 879.7,478.7 864.7,478.7C849.7,478.7 838.0,477.6 824.7,475.3C811.3,473.1 796.3,470.3 784.7,465.3C773.0,460.3 763.0,453.1 754.7,445.3C746.3,437.6 740.2,428.1 734.7,418.7C729.1,409.2 723.6,398.7 721.3,388.7C719.1,378.7 718.0,365.3 721.3,358.7Z" fill="#f7a9cd"/>
<path d="M1104.6,333.4C1106.5,330.7 1109.7,330.2 1114.3,330.2C1118.9,330.2 1129.1,313.8 1132.1,333.4C1135.1,353.1 1134.3,430.4 1132.1,448.2C1129.9,465.9 1123.5,444.1 1119.2,440.1C1114.9,436.0 1109.7,429.3 1106.2,423.9C1102.7,418.5 1100.0,413.2 1098.2,407.8C1096.3,402.4 1096.3,397.0 1094.9,391.6C1093.6,386.2 1090.1,380.8 1090.1,375.4C1090.1,370.1 1092.8,364.1 1094.9,359.3C1097.1,354.4 1101.4,350.7 1103.0,346.4C1104.6,342.0 1102.7,336.1 1104.6,333.4Z" fill="#f7a6cb" fill-opacity="0.95"/>
<path d="M995.8,88.8C991.5,90.1 1007.1,93.6 1012.7,95.6C1018.4,97.6 1024.0,98.7 1029.7,100.7C1035.3,102.6 1041.0,105.2 1046.7,107.5C1052.3,109.7 1058.0,112.5 1063.6,114.2C1069.3,115.9 1074.9,116.5 1080.6,117.6C1086.3,118.8 1091.9,119.6 1097.6,121.0C1103.2,122.4 1110.0,123.3 1114.5,126.1C1119.1,128.9 1121.3,134.0 1124.7,138.0C1128.1,142.0 1133.2,154.7 1134.9,149.9C1136.6,145.1 1138.3,116.2 1134.9,109.2C1131.5,102.1 1122.5,107.3 1114.5,107.5C1106.6,107.6 1096.4,111.6 1087.4,110.0C1078.3,108.4 1068.4,101.8 1060.2,98.1C1052.0,94.4 1048.9,89.5 1038.2,87.9C1027.4,86.4 1000.0,87.5 995.8,88.8Z" fill="#f6bcd4" fill-opacity="0.9"/>
<path d="M695.0,92.2C699.0,87.9 709.2,88.2 718.8,87.1C728.4,86.0 742.8,84.5 752.7,85.4C762.6,86.2 769.7,87.1 778.2,92.2C786.7,97.3 793.7,110.8 803.6,115.9C813.5,121.0 825.1,121.0 837.6,122.7C850.0,124.4 871.5,121.0 878.3,126.1C885.1,131.2 885.1,148.7 878.3,153.3C871.5,157.8 850.0,153.3 837.6,153.3C825.1,153.3 814.9,153.8 803.6,153.3C792.3,152.7 780.4,149.9 769.7,149.9C758.9,149.9 748.2,153.3 739.1,153.3C730.1,153.3 721.6,153.3 715.4,149.9C709.2,146.5 705.2,139.1 701.8,132.9C698.4,126.7 696.2,119.3 695.0,112.5C693.9,105.8 691.1,96.4 695.0,92.2Z" fill="#f9c6db" fill-opacity="0.45"/>
<path d="M633.9,138.0C637.9,134.3 645.3,133.2 650.9,131.2C656.6,129.2 662.8,127.8 667.9,126.1C673.0,124.4 676.9,123.3 681.5,121.0C686.0,118.8 693.3,112.5 695.0,112.5C696.7,112.5 694.7,118.2 691.6,121.0C688.5,123.9 680.9,127.3 676.4,129.5C671.8,131.8 669.3,132.9 664.5,134.6C659.7,136.3 652.0,137.4 647.5,139.7C643.0,142.0 640.7,145.9 637.3,148.2C633.9,150.4 627.7,155.0 627.2,153.3C626.6,151.6 630.0,141.7 633.9,138.0Z" fill="#f8b9d4" fill-opacity="0.8"/>
<path d="M650.9,200.8C653.2,196.8 663.9,191.2 671.3,187.2C678.6,183.3 687.1,180.4 695.0,177.0C702.9,173.6 711.4,169.4 718.8,166.8C726.1,164.3 733.5,162.3 739.1,161.8C744.8,161.2 753.3,162.0 752.7,163.5C752.2,164.9 742.0,168.0 735.8,170.2C729.5,172.5 722.2,174.2 715.4,177.0C708.6,179.9 701.8,183.5 695.0,187.2C688.2,190.9 680.9,195.1 674.7,199.1C668.4,203.0 661.7,210.7 657.7,211.0C653.7,211.2 648.6,204.7 650.9,200.8Z" fill="#f596c1" fill-opacity="0.7"/>
</g>
<rect x="602" y="85" width="534" height="423" fill="#fff" filter="url(#grainL)" opacity="0.38"/>
<rect x="602" y="85" width="534" height="423" fill="#fff" filter="url(#grainD)" opacity="0.26"/>
<g filter="url(#soft)">
<path d="M725.6,87.1C728.4,83.7 733.2,84.8 734.1,87.1C734.9,89.4 732.6,96.4 730.7,100.7C728.7,104.9 724.7,109.2 722.2,112.5C719.6,115.9 717.4,119.9 715.4,121.0C713.4,122.2 710.0,121.6 710.3,119.3C710.6,117.1 714.5,112.8 717.1,107.5C719.6,102.1 722.7,90.5 725.6,87.1Z" fill="#fbe3ea"/>
<path d="M756.1,87.1C756.4,84.0 762.3,84.5 764.6,87.1C766.9,89.6 767.7,98.1 769.7,102.4C771.7,106.6 776.5,110.6 776.5,112.5C776.5,114.5 772.0,115.4 769.7,114.2C767.4,113.1 765.2,110.3 762.9,105.8C760.6,101.2 755.8,90.2 756.1,87.1Z" fill="#fbe3ea"/>
<path d="M744.2,104.1C745.7,101.8 747.9,103.8 749.3,105.8C750.7,107.7 751.0,112.5 752.7,115.9C754.4,119.3 756.7,123.3 759.5,126.1C762.3,128.9 765.2,131.5 769.7,132.9C774.2,134.3 781.0,134.0 786.7,134.6C792.3,135.2 798.0,136.6 803.6,136.3C809.3,136.0 814.9,133.8 820.6,132.9C826.3,132.1 831.9,132.1 837.6,131.2C843.2,130.4 847.8,126.7 854.5,127.8C861.3,128.9 875.5,135.7 878.3,138.0C881.1,140.3 875.5,141.7 871.5,141.4C867.5,141.1 860.2,136.9 854.5,136.3C848.9,135.7 843.2,137.4 837.6,138.0C831.9,138.6 826.3,138.8 820.6,139.7C814.9,140.5 809.3,142.8 803.6,143.1C798.0,143.4 792.3,142.0 786.7,141.4C781.0,140.8 775.3,140.0 769.7,139.7C764.0,139.4 758.4,139.1 752.7,139.7C747.1,140.3 740.3,142.0 735.8,143.1C731.2,144.2 727.8,146.8 725.6,146.5C723.3,146.2 720.8,143.7 722.2,141.4C723.6,139.1 730.9,136.6 734.1,132.9C737.2,129.2 739.1,124.1 740.8,119.3C742.5,114.5 742.8,106.3 744.2,104.1Z" fill="#fbe6ea"/>
<path d="M605.1,158.4C607.4,156.4 612.7,159.8 615.3,161.8C617.8,163.7 617.8,167.1 620.4,170.2C622.9,173.4 630.0,177.9 630.5,180.4C631.1,183.0 626.6,184.1 623.8,185.5C620.9,186.9 616.7,188.1 613.6,188.9C610.5,189.8 607.1,193.1 605.1,190.6C603.1,188.1 601.7,179.0 601.7,173.6C601.7,168.3 602.8,160.3 605.1,158.4Z" fill="#fde8e1"/>
<path d="M803.6,182.1C805.6,181.3 814.9,184.7 820.6,185.5C826.3,186.4 831.9,187.2 837.6,187.2C843.2,187.2 848.9,186.1 854.5,185.5C860.2,184.9 867.3,183.5 871.5,183.8C875.8,184.1 880.0,185.5 880.0,187.2C880.0,188.9 875.8,192.6 871.5,194.0C867.3,195.4 860.2,195.1 854.5,195.7C848.9,196.3 843.2,197.4 837.6,197.4C831.9,197.4 825.4,196.8 820.6,195.7C815.8,194.6 811.6,192.9 808.7,190.6C805.9,188.3 801.7,183.0 803.6,182.1Z" fill="#fce9ec"/>
<path d="M1029.7,85.4C1013.9,86.1 1035.9,87.9 1039.9,89.6C1043.8,91.3 1048.9,93.6 1053.4,95.6C1058.0,97.6 1062.5,99.5 1067.0,101.5C1071.6,103.5 1076.6,105.9 1080.6,107.5C1084.6,109.0 1086.8,110.6 1090.8,110.8C1094.7,111.1 1099.8,109.7 1104.4,109.2C1108.9,108.6 1112.8,107.3 1117.9,107.5C1123.0,107.6 1132.1,113.7 1134.9,110.0C1137.7,106.3 1152.4,89.5 1134.9,85.4C1117.4,81.3 1045.5,84.7 1029.7,85.4Z" fill="#efe3ea"/>
<path d="M1104.4,110.8C1104.9,109.2 1112.8,109.0 1117.9,109.2C1123.0,109.3 1132.1,106.0 1134.9,111.7C1137.7,117.4 1136.0,138.7 1134.9,143.1C1133.8,147.5 1130.4,140.3 1128.1,138.0C1125.9,135.7 1123.6,132.6 1121.3,129.5C1119.1,126.4 1117.4,122.4 1114.5,119.3C1111.7,116.2 1103.8,112.5 1104.4,110.8Z" fill="#f8dbe6" fill-opacity="0.9"/>
<path d="M603.4,376.4C605.1,369.0 610.5,377.2 613.6,379.8C616.7,382.3 620.1,386.8 622.1,391.6C624.0,396.4 626.0,404.1 625.5,408.6C624.9,413.1 621.2,416.5 618.7,418.8C616.1,421.0 612.7,421.3 610.2,422.2C607.6,423.0 604.5,431.5 603.4,423.9C602.3,416.2 601.7,383.7 603.4,376.4Z" fill="#fbe2e8" fill-opacity="0.9"/>
<path d="M693.9,270.4C694.5,267.7 698.2,264.2 702.0,262.3C705.8,260.4 711.4,259.8 716.6,259.1C721.7,258.4 727.3,258.3 732.7,258.3C738.1,258.3 743.5,258.8 748.9,259.1C754.3,259.4 760.5,260.0 765.0,259.9C769.6,259.8 772.9,257.9 776.4,258.3C779.9,258.7 783.9,260.3 786.1,262.3C788.2,264.3 789.0,267.4 789.3,270.4C789.6,273.4 789.6,277.9 787.7,280.1C785.8,282.3 781.5,283.1 778.0,283.3C774.5,283.6 769.6,281.2 766.7,281.7C763.7,282.3 761.8,284.4 760.2,286.6C758.6,288.7 759.1,293.0 757.0,294.6C754.8,296.3 750.5,296.5 747.3,296.3C744.0,296.0 740.8,294.4 737.6,293.0C734.3,291.7 731.1,289.8 727.9,288.2C724.6,286.6 721.4,284.7 718.2,283.3C714.9,282.0 711.7,280.9 708.5,280.1C705.2,279.3 701.2,280.1 698.8,278.5C696.4,276.9 693.4,273.1 693.9,270.4Z" fill="#fff4f1"/>
<path d="M682.6,327.0C683.4,324.0 686.7,320.8 689.1,317.3C691.5,313.8 694.2,308.6 697.2,306.0C700.1,303.3 703.9,301.6 706.9,301.1C709.8,300.6 712.8,301.1 714.9,302.7C717.1,304.3 718.4,307.8 719.8,310.8C721.1,313.8 721.4,317.5 723.0,320.5C724.6,323.5 726.5,326.7 729.5,328.6C732.5,330.5 737.0,331.0 740.8,331.8C744.6,332.6 748.9,334.0 752.1,333.4C755.3,332.9 757.2,329.7 760.2,328.6C763.2,327.5 766.1,327.0 769.9,327.0C773.7,327.0 778.8,327.5 782.8,328.6C786.9,329.7 791.4,331.3 794.1,333.4C796.8,335.6 798.7,338.8 799.0,341.5C799.2,344.2 798.4,348.5 795.7,349.6C793.1,350.7 787.1,349.0 782.8,348.0C778.5,346.9 774.2,343.9 769.9,343.1C765.6,342.3 761.3,343.4 757.0,343.1C752.7,342.9 748.3,342.0 744.0,341.5C739.7,341.0 735.1,339.6 731.1,339.9C727.1,340.2 723.6,342.0 719.8,343.1C716.0,344.2 712.3,345.5 708.5,346.4C704.7,347.2 700.4,348.8 697.2,348.0C693.9,347.2 691.2,343.7 689.1,341.5C686.9,339.4 685.3,337.5 684.2,335.0C683.2,332.6 681.8,329.9 682.6,327.0Z" fill="#fff4f1"/>
<path d="M744.0,346.4C744.6,345.3 752.7,346.9 757.0,348.0C761.3,349.0 765.6,350.7 769.9,352.8C774.2,355.0 778.0,358.7 782.8,360.9C787.7,363.1 793.6,364.7 799.0,365.7C804.4,366.8 809.8,366.3 815.1,367.4C820.5,368.4 825.9,370.3 831.3,372.2C836.7,374.1 842.1,376.8 847.5,378.7C852.8,380.6 858.5,382.4 863.6,383.5C868.7,384.6 873.0,383.8 878.2,385.1C883.3,386.5 890.3,388.9 894.3,391.6C898.4,394.3 900.5,397.8 902.4,401.3C904.3,404.8 905.6,408.8 905.6,412.6C905.6,416.4 904.6,421.2 902.4,423.9C900.2,426.6 896.5,428.2 892.7,428.8C888.9,429.3 884.6,428.2 879.8,427.2C874.9,426.1 869.0,424.2 863.6,422.3C858.2,420.4 852.8,418.0 847.5,415.8C842.1,413.7 836.7,411.3 831.3,409.4C825.9,407.5 820.0,406.1 815.1,404.5C810.3,402.9 806.5,401.8 802.2,399.7C797.9,397.5 793.1,394.6 789.3,391.6C785.5,388.6 782.5,385.1 779.6,381.9C776.6,378.7 774.2,375.4 771.5,372.2C768.8,369.0 766.4,365.5 763.4,362.5C760.5,359.6 757.0,357.1 753.7,354.4C750.5,351.7 743.5,347.4 744.0,346.4Z" fill="#fff4f1"/>
<path d="M842.6,270.4C844.2,268.5 849.3,267.4 853.9,267.2C858.5,266.9 865.7,268.8 870.1,268.8C874.4,268.8 875.7,266.6 880.0,267.2C884.3,267.7 890.8,270.1 896.2,272.0C901.5,273.9 906.9,276.6 912.3,278.5C917.7,280.4 922.6,281.7 928.5,283.3C934.4,284.9 941.4,287.0 947.9,288.2C954.3,289.4 960.8,290.1 967.3,290.6C973.7,291.1 980.2,291.1 986.7,291.4C993.1,291.7 999.6,291.7 1006.1,292.2C1012.5,292.8 1019.5,293.7 1025.4,294.6C1031.4,295.6 1036.8,296.8 1041.6,297.9C1046.5,299.0 1050.5,301.1 1054.5,301.1C1058.6,301.1 1062.1,297.9 1065.8,297.9C1069.6,297.9 1073.4,299.5 1077.2,301.1C1080.9,302.7 1085.2,304.9 1088.5,307.6C1091.7,310.3 1094.9,313.8 1096.5,317.3C1098.2,320.8 1098.7,325.1 1098.2,328.6C1097.6,332.1 1096.0,336.9 1093.3,338.3C1090.6,339.6 1086.0,337.2 1082.0,336.7C1078.0,336.1 1073.7,335.0 1069.1,335.0C1064.5,335.0 1059.1,335.9 1054.5,336.7C1050.0,337.5 1045.9,338.3 1041.6,339.9C1037.3,341.5 1033.0,343.9 1028.7,346.4C1024.4,348.8 1019.8,351.5 1015.7,354.4C1011.7,357.4 1007.7,360.6 1004.4,364.1C1001.2,367.6 998.2,371.4 996.4,375.4C994.5,379.5 993.4,384.3 993.1,388.4C992.9,392.4 994.7,396.5 994.7,399.7C994.7,402.9 995.0,406.1 993.1,407.8C991.2,409.4 986.7,409.4 983.4,409.4C980.2,409.4 976.4,407.0 973.7,407.8C971.0,408.6 970.0,413.4 967.3,414.2C964.6,415.0 961.3,413.7 957.6,412.6C953.8,411.5 949.5,409.9 944.6,407.8C939.8,405.6 933.9,403.5 928.5,399.7C923.1,395.9 917.7,388.4 912.3,385.1C906.9,381.9 901.5,381.2 896.2,380.3C890.8,379.3 883.5,380.3 880.0,379.5C876.5,378.7 876.9,377.7 874.9,375.4C873.0,373.2 869.8,369.5 868.5,365.7C867.1,362.0 866.9,357.1 866.9,352.8C866.9,348.5 868.5,344.2 868.5,339.9C868.5,335.6 867.9,331.3 866.9,327.0C865.8,322.7 863.9,318.3 862.0,314.0C860.1,309.7 857.7,305.4 855.5,301.1C853.4,296.8 851.0,291.9 849.1,288.2C847.2,284.4 845.3,281.4 844.2,278.5C843.2,275.5 841.0,272.3 842.6,270.4Z" fill="#fff4f1"/>
<path d="M1014.1,456.2C1014.9,453.8 1019.0,449.8 1022.2,446.5C1025.4,443.3 1029.8,440.6 1033.5,436.9C1037.3,433.1 1041.3,428.2 1044.8,423.9C1048.3,419.6 1051.6,415.3 1054.5,411.0C1057.5,406.7 1060.2,401.8 1062.6,398.1C1065.0,394.3 1066.7,390.5 1069.1,388.4C1071.5,386.2 1074.7,384.6 1077.2,385.1C1079.6,385.7 1082.3,388.9 1083.6,391.6C1085.0,394.3 1086.0,398.6 1085.2,401.3C1084.4,404.0 1080.4,405.6 1078.8,407.8C1077.2,409.9 1073.7,414.2 1075.5,414.2C1077.4,414.2 1086.9,407.5 1090.1,407.8C1093.3,408.0 1095.5,413.2 1094.9,415.8C1094.4,418.5 1090.4,422.0 1086.9,423.9C1083.4,425.8 1078.2,426.9 1073.9,427.2C1069.6,427.4 1064.5,425.3 1061.0,425.5C1057.5,425.8 1054.0,426.6 1052.9,428.8C1051.8,430.9 1055.3,435.5 1054.5,438.5C1053.7,441.4 1051.0,444.1 1048.1,446.5C1045.1,449.0 1040.5,450.9 1036.8,453.0C1033.0,455.2 1028.7,458.1 1025.4,459.5C1022.2,460.8 1019.2,461.6 1017.4,461.1C1015.5,460.6 1013.3,458.7 1014.1,456.2Z" fill="#fff4f1"/>
<path d="M818.4,267.2C819.7,265.0 824.8,264.2 826.5,265.6C828.1,266.9 828.6,272.3 828.1,275.2C827.5,278.2 824.8,282.8 823.2,283.3C821.6,283.9 819.2,281.2 818.4,278.5C817.6,275.8 817.0,269.3 818.4,267.2Z" fill="#fff4f1"/>
<path d="M739.2,390.0C740.8,388.6 747.0,390.3 750.5,391.6C754.0,392.9 757.0,395.9 760.2,398.1C763.4,400.2 767.5,401.6 769.9,404.5C772.3,407.5 774.5,412.1 774.7,415.8C775.0,419.6 773.4,425.8 771.5,427.2C769.6,428.5 765.9,426.1 763.4,423.9C761.0,421.8 759.4,417.2 757.0,414.2C754.5,411.3 751.6,408.6 748.9,406.1C746.2,403.7 742.4,402.4 740.8,399.7C739.2,397.0 737.6,391.3 739.2,390.0Z" fill="#fde9ee"/>
<path d="M799.0,440.1C801.4,437.9 808.1,437.4 811.9,438.5C815.7,439.5 820.5,443.6 821.6,446.5C822.7,449.5 821.1,454.1 818.4,456.2C815.7,458.4 808.9,460.3 805.4,459.5C801.9,458.7 798.4,454.6 797.4,451.4C796.3,448.2 796.6,442.2 799.0,440.1Z" fill="#fbdde8" fill-opacity="0.9"/>
<ellipse cx="702.0" cy="380.3" rx="3.5483870967741935" ry="2.838709677419355" fill="#fdeef1"/>
<ellipse cx="714.9" cy="367.4" rx="2.903225806451613" ry="2.3225806451612905" fill="#fdeef1"/>
<ellipse cx="698.8" cy="407.8" rx="2.258064516129032" ry="1.8064516129032258" fill="#fdeef1"/>
<ellipse cx="674.5" cy="380.3" rx="2.5806451612903225" ry="2.064516129032258" fill="#fdeef1"/>
<ellipse cx="726.3" cy="369.0" rx="2.258064516129032" ry="1.8064516129032258" fill="#fdeef1"/>
<path d="M1057.8,270.4C1057.8,271.7 1064.2,273.1 1067.5,275.2C1070.7,277.4 1073.9,280.6 1077.2,283.3C1080.4,286.0 1083.6,288.7 1086.9,291.4C1090.1,294.1 1093.3,297.1 1096.5,299.5C1099.8,301.9 1103.0,305.1 1106.2,306.0C1109.5,306.8 1112.7,305.7 1115.9,304.3C1119.2,303.0 1122.9,300.0 1125.6,297.9C1128.3,295.7 1131.0,294.1 1132.1,291.4C1133.2,288.7 1134.3,282.8 1132.1,281.7C1129.9,280.6 1122.9,284.7 1119.2,284.9C1115.4,285.2 1112.7,284.7 1109.5,283.3C1106.2,282.0 1103.0,278.8 1099.8,276.9C1096.5,275.0 1092.2,274.4 1090.1,272.0C1087.9,269.6 1088.7,264.5 1086.9,262.3C1085.0,260.2 1080.7,258.5 1078.8,259.1C1076.9,259.6 1077.4,264.2 1075.5,265.6C1073.7,266.9 1070.4,266.4 1067.5,267.2C1064.5,268.0 1057.8,269.1 1057.8,270.4Z" fill="#f7e9ee"/>
<path d="M1111.1,314.0C1111.9,311.6 1115.7,311.1 1119.2,310.8C1122.7,310.5 1129.9,308.6 1132.1,312.4C1134.3,316.2 1133.7,330.2 1132.1,333.4C1130.5,336.7 1125.4,333.2 1122.4,331.8C1119.4,330.5 1116.2,328.3 1114.3,325.3C1112.4,322.4 1110.3,316.5 1111.1,314.0Z" fill="#f7e9ee"/>
<path d="M1062.6,273.6C1064.8,273.4 1069.6,275.8 1073.9,278.5C1078.2,281.2 1083.6,286.0 1088.5,289.8C1093.3,293.6 1097.9,298.1 1103.0,301.1C1108.1,304.1 1114.3,306.8 1119.2,307.6C1124.0,308.4 1129.9,303.8 1132.1,306.0C1134.3,308.1 1134.3,318.1 1132.1,320.5C1129.9,322.9 1123.5,321.6 1119.2,320.5C1114.9,319.4 1110.3,316.5 1106.2,314.0C1102.2,311.6 1099.0,308.9 1094.9,306.0C1090.9,303.0 1086.0,299.5 1082.0,296.3C1078.0,293.0 1074.2,289.3 1070.7,286.6C1067.2,283.9 1062.3,282.3 1061.0,280.1C1059.6,277.9 1060.5,273.9 1062.6,273.6Z" fill="#f9e3ec" fill-opacity="0.85"/>
<path d="M1048.1,233.2C1049.1,232.3 1052.9,231.6 1054.5,232.4C1056.1,233.2 1058.0,236.6 1057.8,238.1C1057.5,239.6 1054.5,241.3 1052.9,241.3C1051.3,241.3 1048.9,239.4 1048.1,238.1C1047.3,236.7 1047.0,234.2 1048.1,233.2Z" fill="#f9e9ee"/>
<path d="M1103.0,333.4C1104.6,331.0 1109.5,327.8 1114.3,327.0C1119.2,326.2 1129.1,322.7 1132.1,328.6C1135.1,334.5 1133.7,357.4 1132.1,362.5C1130.5,367.6 1125.9,361.4 1122.4,359.3C1118.9,357.1 1114.1,352.5 1111.1,349.6C1108.1,346.6 1106.0,344.2 1104.6,341.5C1103.3,338.8 1101.4,335.9 1103.0,333.4Z" fill="#fbdfe9" fill-opacity="0.8"/>
<path d="M1119.2,420.7C1121.6,417.2 1129.9,409.4 1132.1,415.8C1134.3,422.3 1133.7,453.3 1132.1,459.5C1130.5,465.7 1124.8,456.8 1122.4,453.0C1120.0,449.2 1118.1,442.2 1117.6,436.9C1117.0,431.5 1116.7,424.2 1119.2,420.7Z" fill="#fbdfe9" fill-opacity="0.8"/>
</g>
<g filter="url(#cells)">
<path d="M760.2,286.6C764.0,285.2 768.3,284.7 773.1,283.3C778.0,282.0 783.9,279.8 789.3,278.5C794.7,277.1 800.6,274.7 805.4,275.2C810.3,275.8 814.3,281.2 818.4,281.7C822.4,282.3 826.5,279.6 829.7,278.5C832.9,277.4 835.3,274.4 837.8,275.2C840.2,276.1 842.1,280.1 844.2,283.3C846.4,286.6 848.5,290.6 850.7,294.6C852.8,298.7 855.0,303.3 857.2,307.6C859.3,311.9 862.0,315.9 863.6,320.5C865.2,325.1 866.3,329.7 866.9,335.0C867.4,340.4 866.6,347.7 866.9,352.8C867.1,357.9 869.3,362.5 868.5,365.7C867.7,369.0 865.8,371.7 862.0,372.2C858.2,372.7 851.2,370.3 845.8,369.0C840.5,367.6 834.8,365.5 829.7,364.1C824.6,362.8 819.7,361.7 815.1,360.9C810.6,360.1 804.9,361.7 802.2,359.3C799.5,356.9 799.2,350.7 799.0,346.4C798.7,342.0 801.4,336.7 800.6,333.4C799.8,330.2 797.1,328.3 794.1,327.0C791.2,325.6 786.9,325.6 782.8,325.3C778.8,325.1 773.7,325.1 769.9,325.3C766.1,325.6 762.3,328.3 760.2,327.0C758.0,325.6 758.6,320.5 757.0,317.3C755.3,314.0 752.7,310.8 750.5,307.6C748.3,304.3 744.0,300.6 744.0,297.9C744.0,295.2 747.8,293.3 750.5,291.4C753.2,289.5 756.4,287.9 760.2,286.6Z" fill="#fac8dd" fill-opacity="0.95"/>
<path d="M713.3,283.3C717.6,283.6 723.8,287.9 727.9,289.8C731.9,291.7 734.9,292.8 737.6,294.6C740.3,296.5 741.9,298.4 744.0,301.1C746.2,303.8 748.3,307.6 750.5,310.8C752.7,314.0 755.3,317.5 757.0,320.5C758.6,323.5 761.3,326.4 760.2,328.6C759.1,330.7 754.3,332.9 750.5,333.4C746.7,334.0 741.3,332.9 737.6,331.8C733.8,330.7 730.3,329.1 727.9,327.0C725.4,324.8 724.4,321.8 723.0,318.9C721.7,315.9 721.1,312.1 719.8,309.2C718.4,306.2 717.1,303.0 714.9,301.1C712.8,299.2 709.0,300.0 706.9,297.9C704.7,295.7 700.9,290.6 702.0,288.2C703.1,285.8 709.0,283.1 713.3,283.3Z" fill="#fac8dd" fill-opacity="0.9"/>
<path d="M1054.5,336.7C1059.1,335.7 1064.5,335.0 1069.1,335.0C1073.7,335.0 1078.0,336.0 1082.0,336.7C1086.0,337.3 1092.5,336.4 1093.3,339.1C1094.1,341.8 1089.5,348.4 1086.9,352.8C1084.2,357.3 1080.7,361.4 1077.2,365.7C1073.7,370.1 1069.1,374.4 1065.8,378.7C1062.6,383.0 1060.5,386.8 1057.8,391.6C1055.1,396.5 1052.4,402.9 1049.7,407.8C1047.0,412.6 1044.6,416.4 1041.6,420.7C1038.6,425.0 1035.7,429.6 1031.9,433.6C1028.1,437.7 1023.3,443.0 1019.0,444.9C1014.7,446.8 1009.3,447.1 1006.1,444.9C1002.8,442.8 1001.3,436.9 999.6,432.0C997.8,427.2 996.5,421.2 995.5,415.8C994.6,410.5 994.2,404.8 993.9,399.7C993.7,394.6 993.3,389.7 993.9,385.1C994.6,380.6 996.0,376.3 998.0,372.2C1000.0,368.2 1002.8,364.1 1006.1,360.9C1009.3,357.7 1013.3,355.4 1017.4,352.8C1021.4,350.3 1026.3,347.6 1030.3,345.5C1034.3,343.5 1037.6,342.2 1041.6,340.7C1045.6,339.2 1050.0,337.6 1054.5,336.7Z" fill="#f7b2d1" fill-opacity="0.95"/>
<path d="M1054.5,292.2C1057.8,292.6 1068.0,292.9 1073.9,294.6C1079.8,296.4 1085.5,299.5 1090.1,302.7C1094.7,306.0 1099.1,310.0 1101.4,314.0C1103.7,318.1 1104.1,322.7 1103.8,327.0C1103.6,331.3 1102.1,337.5 1099.8,339.9C1097.5,342.3 1094.4,342.0 1090.1,341.5C1085.8,341.0 1079.3,337.8 1073.9,337.0C1068.5,336.2 1063.2,336.0 1057.8,336.7C1052.4,337.3 1047.0,338.7 1041.6,340.7C1036.2,342.7 1030.8,345.7 1025.4,348.8C1020.1,351.9 1013.6,355.6 1009.3,359.3C1005.0,362.9 1002.0,366.6 999.6,370.6C997.2,374.6 995.4,378.7 994.7,383.5C994.1,388.4 994.9,394.3 995.5,399.7C996.2,405.1 997.6,411.0 998.8,415.8C1000.0,420.7 1002.1,426.6 1002.8,428.8" fill="none" stroke="#f070aa" stroke-width="2.6" stroke-linecap="round" stroke-linejoin="round"/>
<path d="M880.0,339.9C882.7,340.2 890.8,339.4 896.2,341.5C901.5,343.7 906.9,349.3 912.3,352.8C917.7,356.3 923.6,359.3 928.5,362.5C933.3,365.7 938.7,369.0 941.4,372.2C944.1,375.4 944.1,380.3 944.6,381.9" fill="none" stroke="#f7a9cb" stroke-width="1.6" stroke-linecap="round" stroke-linejoin="round"/>
<path d="M773.1,348.0C773.9,346.6 779.6,348.8 782.8,349.6C786.1,350.4 790.1,351.2 792.5,352.8C794.9,354.4 797.4,357.4 797.4,359.3C797.4,361.2 794.7,363.6 792.5,364.1C790.4,364.7 786.9,363.6 784.4,362.5C782.0,361.4 779.9,360.1 778.0,357.7C776.1,355.2 772.3,349.3 773.1,348.0Z" fill="#f283b5"/>
</g>
</g>
<rect x="25.0" y="85.5" width="533.5" height="421.7" fill="none" stroke="#000" stroke-width="3"/>
<rect x="603.5" y="85.5" width="530.5" height="421.7" fill="none" stroke="#000" stroke-width="3"/>
<rect x="521.00" y="494.00" width="26.00" height="5.80" fill="#000"/>
<rect x="1097.00" y="494.00" width="26.00" height="5.80" fill="#000"/>
<line x1="1360" y1="63.7" x2="1360" y2="490.5" stroke="#000" stroke-width="2" stroke-linecap="butt"/>
<line x1="1349.5" y1="489.5" x2="1643" y2="489.5" stroke="#000" stroke-width="2" stroke-linecap="butt"/>
<line x1="1349.5" y1="64.7" x2="1360" y2="64.7" stroke="#000" stroke-width="2" stroke-linecap="butt"/>
<line x1="1349.5" y1="107.18" x2="1360" y2="107.18" stroke="#000" stroke-width="2" stroke-linecap="butt"/>
<line x1="1349.5" y1="149.66000000000003" x2="1360" y2="149.66000000000003" stroke="#000" stroke-width="2" stroke-linecap="butt"/>
<line x1="1349.5" y1="192.14000000000001" x2="1360" y2="192.14000000000001" stroke="#000" stroke-width="2" stroke-linecap="butt"/>
<line x1="1349.5" y1="234.62" x2="1360" y2="234.62" stroke="#000" stroke-width="2" stroke-linecap="butt"/>
<line x1="1349.5" y1="277.1" x2="1360" y2="277.1" stroke="#000" stroke-width="2" stroke-linecap="butt"/>
<line x1="1349.5" y1="319.58000000000004" x2="1360" y2="319.58000000000004" stroke="#000" stroke-width="2" stroke-linecap="butt"/>
<line x1="1349.5" y1="362.06" x2="1360" y2="362.06" stroke="#000" stroke-width="2" stroke-linecap="butt"/>
<line x1="1349.5" y1="404.54" x2="1360" y2="404.54" stroke="#000" stroke-width="2" stroke-linecap="butt"/>
<line x1="1349.5" y1="447.02000000000004" x2="1360" y2="447.02000000000004" stroke="#000" stroke-width="2" stroke-linecap="butt"/>
<line x1="1349.5" y1="489.5" x2="1360" y2="489.5" stroke="#000" stroke-width="2" stroke-linecap="butt"/>
<line x1="1430.6" y1="489.5" x2="1430.6" y2="500.0" stroke="#000" stroke-width="2" stroke-linecap="butt"/>
<line x1="1572.3" y1="489.5" x2="1572.3" y2="500.0" stroke="#000" stroke-width="2" stroke-linecap="butt"/>
<text transform="translate(1259.3 73.3) scale(1 1.09)" font-size="24.6" font-weight="bold">2.5<tspan font-weight="normal" font-size="26.5" dx="-2" dy="2.7">×</tspan><tspan dx="-3.4" dy="-2.7">10</tspan><tspan font-size="16.4" dy="-7.2" dx="1.2" stroke="#000" stroke-width="0.45">5</tspan></text>
<text transform="translate(1259.3 115.8) scale(1 1.09)" font-size="24.6" font-weight="bold">2.3<tspan font-weight="normal" font-size="26.5" dx="-2" dy="2.7">×</tspan><tspan dx="-3.4" dy="-2.7">10</tspan><tspan font-size="16.4" dy="-7.2" dx="1.2" stroke="#000" stroke-width="0.45">5</tspan></text>
<text transform="translate(1259.3 158.3) scale(1 1.09)" font-size="24.6" font-weight="bold">2.0<tspan font-weight="normal" font-size="26.5" dx="-2" dy="2.7">×</tspan><tspan dx="-3.4" dy="-2.7">10</tspan><tspan font-size="16.4" dy="-7.2" dx="1.2" stroke="#000" stroke-width="0.45">5</tspan></text>
<text transform="translate(1259.3 200.7) scale(1 1.09)" font-size="24.6" font-weight="bold">1.8<tspan font-weight="normal" font-size="26.5" dx="-2" dy="2.7">×</tspan><tspan dx="-3.4" dy="-2.7">10</tspan><tspan font-size="16.4" dy="-7.2" dx="1.2" stroke="#000" stroke-width="0.45">5</tspan></text>
<text transform="translate(1259.3 243.2) scale(1 1.09)" font-size="24.6" font-weight="bold">1.5<tspan font-weight="normal" font-size="26.5" dx="-2" dy="2.7">×</tspan><tspan dx="-3.4" dy="-2.7">10</tspan><tspan font-size="16.4" dy="-7.2" dx="1.2" stroke="#000" stroke-width="0.45">5</tspan></text>
<text transform="translate(1259.3 285.7) scale(1 1.09)" font-size="24.6" font-weight="bold">1.3<tspan font-weight="normal" font-size="26.5" dx="-2" dy="2.7">×</tspan><tspan dx="-3.4" dy="-2.7">10</tspan><tspan font-size="16.4" dy="-7.2" dx="1.2" stroke="#000" stroke-width="0.45">5</tspan></text>
<text transform="translate(1259.3 328.2) scale(1 1.09)" font-size="24.6" font-weight="bold">1.0<tspan font-weight="normal" font-size="26.5" dx="-2" dy="2.7">×</tspan><tspan dx="-3.4" dy="-2.7">10</tspan><tspan font-size="16.4" dy="-7.2" dx="1.2" stroke="#000" stroke-width="0.45">5</tspan></text>
<text transform="translate(1259.3 370.7) scale(1 1.09)" font-size="24.6" font-weight="bold">7.5<tspan font-weight="normal" font-size="26.5" dx="-2" dy="2.7">×</tspan><tspan dx="-3.4" dy="-2.7">10</tspan><tspan font-size="16.4" dy="-7.2" dx="1.2" stroke="#000" stroke-width="0.45">4</tspan></text>
<text transform="translate(1259.3 413.1) scale(1 1.09)" font-size="24.6" font-weight="bold">5.0<tspan font-weight="normal" font-size="26.5" dx="-2" dy="2.7">×</tspan><tspan dx="-3.4" dy="-2.7">10</tspan><tspan font-size="16.4" dy="-7.2" dx="1.2" stroke="#000" stroke-width="0.45">4</tspan></text>
<text transform="translate(1259.3 455.6) scale(1 1.09)" font-size="24.6" font-weight="bold">2.5<tspan font-weight="normal" font-size="26.5" dx="-2" dy="2.7">×</tspan><tspan dx="-3.4" dy="-2.7">10</tspan><tspan font-size="16.4" dy="-7.2" dx="1.2" stroke="#000" stroke-width="0.45">4</tspan></text>
<text transform="translate(1345.1 499.0) scale(1 1.09)" font-size="24.6" font-weight="bold" text-anchor="end">0</text>
<text transform="translate(1431.4 523.8) scale(1 1.04)" font-size="25" font-weight="bold" text-anchor="middle">WT</text>
<text transform="translate(1572.6 523.8) scale(1 1.04)" font-size="25" font-weight="bold" text-anchor="middle">KO</text>
<text transform="translate(1247.3 276.6) rotate(-90) scale(1 1.04)" font-size="28.85" font-weight="normal" text-anchor="middle" stroke="#000" stroke-width="0.9" stroke-linejoin="round">Plaque size area (AU)</text>
<circle cx="1440.9" cy="121.8" r="7.3" fill="#000"/>
<circle cx="1420.5" cy="141.2" r="7.3" fill="#000"/>
<circle cx="1430.6" cy="174.5" r="7.3" fill="#000"/>
<circle cx="1440.9" cy="184.8" r="7.3" fill="#000"/>
<circle cx="1420.5" cy="204.8" r="7.3" fill="#000"/>
<circle cx="1420.5" cy="213.3" r="7.3" fill="#000"/>
<circle cx="1440.9" cy="229.9" r="7.3" fill="#000"/>
<circle cx="1440.9" cy="252.7" r="7.3" fill="#000"/>
<circle cx="1420.5" cy="264.4" r="7.3" fill="#000"/>
<circle cx="1430.6" cy="285.5" r="7.3" fill="#000"/>
<circle cx="1430.6" cy="314.9" r="7.3" fill="#000"/>
<circle cx="1572.3" cy="81.7" r="7.0" fill="#fff" stroke="#000" stroke-width="4.6"/>
<circle cx="1531.7" cy="198.8" r="7.0" fill="#fff" stroke="#000" stroke-width="4.6"/>
<circle cx="1552.0" cy="205.1" r="7.0" fill="#fff" stroke="#000" stroke-width="4.6"/>
<circle cx="1572.3" cy="208.1" r="7.0" fill="#fff" stroke="#000" stroke-width="4.6"/>
<circle cx="1592.4" cy="201.0" r="7.0" fill="#fff" stroke="#000" stroke-width="4.6"/>
<circle cx="1612.9" cy="198.6" r="7.0" fill="#fff" stroke="#000" stroke-width="4.6"/>
<circle cx="1572.3" cy="247.1" r="7.0" fill="#fff" stroke="#000" stroke-width="4.6"/>
<circle cx="1562.2" cy="278.8" r="7.0" fill="#fff" stroke="#000" stroke-width="4.6"/>
<circle cx="1582.6" cy="287.4" r="7.0" fill="#fff" stroke="#000" stroke-width="4.6"/>
<circle cx="1572.3" cy="329.7" r="7.0" fill="#fff" stroke="#000" stroke-width="4.6"/>
<line x1="1383.6999999999998" y1="216.9" x2="1477.5" y2="216.9" stroke="#000" stroke-width="3.6" stroke-linecap="round"/>
<line x1="1407.0" y1="199" x2="1454.1999999999998" y2="199" stroke="#000" stroke-width="5" stroke-linecap="round"/>
<line x1="1407.0" y1="235" x2="1454.1999999999998" y2="235" stroke="#000" stroke-width="5" stroke-linecap="round"/>
<line x1="1430.6" y1="199" x2="1430.6" y2="235" stroke="#000" stroke-width="4.6" stroke-linecap="butt"/>
<line x1="1525.3999999999999" y1="223.8" x2="1619.2" y2="223.8" stroke="#000" stroke-width="3.6" stroke-linecap="round"/>
<line x1="1548.7" y1="201.4" x2="1595.8999999999999" y2="201.4" stroke="#000" stroke-width="5" stroke-linecap="round"/>
<line x1="1548.7" y1="245.2" x2="1595.8999999999999" y2="245.2" stroke="#000" stroke-width="5" stroke-linecap="round"/>
<line x1="1572.3" y1="201.4" x2="1572.3" y2="245.2" stroke="#000" stroke-width="4.6" stroke-linecap="butt"/>
<line x1="144" y1="623" x2="144" y2="1019" stroke="#000" stroke-width="2" stroke-linecap="butt"/>
<line x1="132" y1="1018" x2="407" y2="1018" stroke="#000" stroke-width="2" stroke-linecap="butt"/>
<line x1="132" y1="624.0" x2="144" y2="624.0" stroke="#000" stroke-width="2" stroke-linecap="butt"/>
<text transform="translate(129.9 634.4) scale(1 1.13)" font-size="28.6" font-weight="bold" text-anchor="end">100</text>
<line x1="132" y1="702.8" x2="144" y2="702.8" stroke="#000" stroke-width="2" stroke-linecap="butt"/>
<text transform="translate(129.9 713.1999999999999) scale(1 1.13)" font-size="28.6" font-weight="bold" text-anchor="end">80</text>
<line x1="132" y1="781.6" x2="144" y2="781.6" stroke="#000" stroke-width="2" stroke-linecap="butt"/>
<text transform="translate(129.9 792.0) scale(1 1.13)" font-size="28.6" font-weight="bold" text-anchor="end">60</text>
<line x1="132" y1="860.4" x2="144" y2="860.4" stroke="#000" stroke-width="2" stroke-linecap="butt"/>
<text transform="translate(129.9 870.8) scale(1 1.13)" font-size="28.6" font-weight="bold" text-anchor="end">40</text>
<line x1="132" y1="939.2" x2="144" y2="939.2" stroke="#000" stroke-width="2" stroke-linecap="butt"/>
<text transform="translate(129.9 949.6) scale(1 1.13)" font-size="28.6" font-weight="bold" text-anchor="end">20</text>
<line x1="132" y1="1018.0" x2="144" y2="1018.0" stroke="#000" stroke-width="2" stroke-linecap="butt"/>
<text transform="translate(129.9 1028.4) scale(1 1.13)" font-size="28.6" font-weight="bold" text-anchor="end">0</text>
<line x1="209.6" y1="1018" x2="209.6" y2="1030.2" stroke="#000" stroke-width="2" stroke-linecap="butt"/>
<line x1="341.2" y1="1018" x2="341.2" y2="1030.2" stroke="#000" stroke-width="2" stroke-linecap="butt"/>
<rect x="165.80" y="1006.59" width="87.40" height="11.21" fill="#dedede" stroke="#000" stroke-width="1.6"/>
<rect x="165.80" y="922.66" width="87.40" height="83.92" fill="#777777" stroke="#000" stroke-width="1.6"/>
<rect x="165.80" y="624.80" width="87.40" height="297.86" fill="#000" stroke="#000" stroke-width="1.6"/>
<rect x="297.30" y="911.63" width="87.40" height="106.17" fill="#777777" stroke="#000" stroke-width="1.6"/>
<rect x="297.30" y="624.80" width="87.40" height="286.83" fill="#000" stroke="#000" stroke-width="1.6"/>
<text transform="translate(209.4 1058.2) scale(1 1.04)" font-size="29.5" font-weight="bold" text-anchor="middle">WT</text>
<text transform="translate(341.2 1058.2) scale(1 1.04)" font-size="29.5" font-weight="bold" text-anchor="middle">KO</text>
<text transform="translate(63 991.2) rotate(-90) scale(1 1.085)" font-size="31.7" font-weight="bold" text-anchor="start">Plaque phenotype<tspan dx="3.3"> (%</tspan><tspan dx="9">)</tspan></text>
<rect x="409.20" y="638.10" width="42.20" height="21.60" fill="#dedede" stroke="#000" stroke-width="1.7"/>
<text transform="translate(474.8 659.6) scale(1 1.04)" font-size="31.4" font-weight="normal" text-anchor="start" stroke="#000" stroke-width="0.5">Small</text>
<rect x="409.20" y="683.35" width="42.20" height="21.60" fill="#777777" stroke="#000" stroke-width="1.7"/>
<text transform="translate(474.8 704.85) scale(1 1.04)" font-size="31.4" font-weight="normal" text-anchor="start" stroke="#000" stroke-width="0.5">Moderate</text>
<rect x="409.20" y="728.60" width="42.20" height="21.60" fill="#000" stroke="#000" stroke-width="1.7"/>
<text transform="translate(474.8 750.1) scale(1 1.04)" font-size="31.4" font-weight="normal" text-anchor="start" stroke="#000" stroke-width="0.5">Advanced</text>
<line x1="858.2" y1="594.4" x2="858.2" y2="1021.4" stroke="#000" stroke-width="2" stroke-linecap="butt"/>
<line x1="847.7" y1="1020.4" x2="1141.5" y2="1020.4" stroke="#000" stroke-width="2" stroke-linecap="butt"/>
<line x1="847.7" y1="595.4" x2="858.2" y2="595.4" stroke="#000" stroke-width="2" stroke-linecap="butt"/>
<line x1="847.7" y1="642.6222222222221" x2="858.2" y2="642.6222222222221" stroke="#000" stroke-width="2" stroke-linecap="butt"/>
<line x1="847.7" y1="689.8444444444444" x2="858.2" y2="689.8444444444444" stroke="#000" stroke-width="2" stroke-linecap="butt"/>
<line x1="847.7" y1="737.0666666666666" x2="858.2" y2="737.0666666666666" stroke="#000" stroke-width="2" stroke-linecap="butt"/>
<line x1="847.7" y1="784.2888888888889" x2="858.2" y2="784.2888888888889" stroke="#000" stroke-width="2" stroke-linecap="butt"/>
<line x1="847.7" y1="831.5111111111111" x2="858.2" y2="831.5111111111111" stroke="#000" stroke-width="2" stroke-linecap="butt"/>
<line x1="847.7" y1="878.7333333333333" x2="858.2" y2="878.7333333333333" stroke="#000" stroke-width="2" stroke-linecap="butt"/>
<line x1="847.7" y1="925.9555555555555" x2="858.2" y2="925.9555555555555" stroke="#000" stroke-width="2" stroke-linecap="butt"/>
<line x1="847.7" y1="973.1777777777777" x2="858.2" y2="973.1777777777777" stroke="#000" stroke-width="2" stroke-linecap="butt"/>
<line x1="847.7" y1="1020.4" x2="858.2" y2="1020.4" stroke="#000" stroke-width="2" stroke-linecap="butt"/>
<line x1="928.6" y1="1020.4" x2="928.6" y2="1030.9" stroke="#000" stroke-width="2" stroke-linecap="butt"/>
<line x1="1070.1" y1="1020.4" x2="1070.1" y2="1030.9" stroke="#000" stroke-width="2" stroke-linecap="butt"/>
<text transform="translate(845.3 604.6999999999999) scale(1 1.126)" font-size="24.6" font-weight="bold" text-anchor="end">90</text>
<text transform="translate(845.3 651.9222222222221) scale(1 1.126)" font-size="24.6" font-weight="bold" text-anchor="end">80</text>
<text transform="translate(845.3 699.1444444444444) scale(1 1.126)" font-size="24.6" font-weight="bold" text-anchor="end">70</text>
<text transform="translate(845.3 746.3666666666666) scale(1 1.126)" font-size="24.6" font-weight="bold" text-anchor="end">60</text>
<text transform="translate(845.3 793.5888888888888) scale(1 1.126)" font-size="24.6" font-weight="bold" text-anchor="end">50</text>
<text transform="translate(845.3 840.811111111111) scale(1 1.126)" font-size="24.6" font-weight="bold" text-anchor="end">40</text>
<text transform="translate(845.3 888.0333333333333) scale(1 1.126)" font-size="24.6" font-weight="bold" text-anchor="end">30</text>
<text transform="translate(845.3 935.2555555555555) scale(1 1.126)" font-size="24.6" font-weight="bold" text-anchor="end">20</text>
<text transform="translate(845.3 982.4777777777776) scale(1 1.126)" font-size="24.6" font-weight="bold" text-anchor="end">10</text>
<text transform="translate(845.3 1029.7) scale(1 1.126)" font-size="24.6" font-weight="bold" text-anchor="end">0</text>
<text transform="translate(929.5 1055) scale(1 1.04)" font-size="25" font-weight="bold" text-anchor="middle">WT</text>
<text transform="translate(1070.5 1055) scale(1 1.04)" font-size="25" font-weight="bold" text-anchor="middle">KO</text>
<text transform="translate(797.2 937.4) rotate(-90) scale(1 1.1)" font-size="27.1" font-weight="bold" text-anchor="start">Plaque collagen<tspan dx="3.0"> (%</tspan><tspan dx="3.2">)</tspan></text>
<circle cx="928.6" cy="664.3" r="7.3" fill="#000"/>
<circle cx="918.5" cy="700.7" r="7.3" fill="#000"/>
<circle cx="938.7" cy="709.6" r="7.3" fill="#000"/>
<circle cx="938.7" cy="731.1" r="7.3" fill="#000"/>
<circle cx="918.5" cy="744.5" r="7.3" fill="#000"/>
<circle cx="918.5" cy="755.7" r="7.3" fill="#000"/>
<circle cx="938.7" cy="771.5" r="7.3" fill="#000"/>
<circle cx="908.3" cy="787.9" r="7.3" fill="#000"/>
<circle cx="928.6" cy="804.2" r="7.3" fill="#000"/>
<circle cx="948.9" cy="803.2" r="7.3" fill="#000"/>
<circle cx="1060.1" cy="661.9" r="7.0" fill="#fff" stroke="#000" stroke-width="4.6"/>
<circle cx="1080.4" cy="655.4" r="7.0" fill="#fff" stroke="#000" stroke-width="4.6"/>
<circle cx="1070.1" cy="688.6" r="7.0" fill="#fff" stroke="#000" stroke-width="4.6"/>
<circle cx="1070.1" cy="710.9" r="7.0" fill="#fff" stroke="#000" stroke-width="4.6"/>
<circle cx="1049.8" cy="740.2" r="7.0" fill="#fff" stroke="#000" stroke-width="4.6"/>
<circle cx="1090.5" cy="736.7" r="7.0" fill="#fff" stroke="#000" stroke-width="4.6"/>
<circle cx="1070.1" cy="750.1" r="7.0" fill="#fff" stroke="#000" stroke-width="4.6"/>
<circle cx="1049.8" cy="777.1" r="7.0" fill="#fff" stroke="#000" stroke-width="4.6"/>
<circle cx="1070.1" cy="792.0" r="7.0" fill="#fff" stroke="#000" stroke-width="4.6"/>
<circle cx="1090.5" cy="788.7" r="7.0" fill="#fff" stroke="#000" stroke-width="4.6"/>
<line x1="881.7" y1="747.5" x2="975.5" y2="747.5" stroke="#000" stroke-width="3.6" stroke-linecap="round"/>
<line x1="905.0" y1="732.6" x2="952.2" y2="732.6" stroke="#000" stroke-width="5" stroke-linecap="round"/>
<line x1="905.0" y1="762.2" x2="952.2" y2="762.2" stroke="#000" stroke-width="5" stroke-linecap="round"/>
<line x1="928.6" y1="732.6" x2="928.6" y2="762.2" stroke="#000" stroke-width="4.6" stroke-linecap="butt"/>
<line x1="1023.1999999999999" y1="730.1" x2="1117.0" y2="730.1" stroke="#000" stroke-width="3.6" stroke-linecap="round"/>
<line x1="1046.5" y1="714.1" x2="1093.6999999999998" y2="714.1" stroke="#000" stroke-width="5" stroke-linecap="round"/>
<line x1="1046.5" y1="746.4" x2="1093.6999999999998" y2="746.4" stroke="#000" stroke-width="5" stroke-linecap="round"/>
<line x1="1070.1" y1="714.1" x2="1070.1" y2="746.4" stroke="#000" stroke-width="4.6" stroke-linecap="butt"/>
<line x1="165.0" y1="1203.0" x2="165.0" y2="1564.4" stroke="#000" stroke-width="2" stroke-linecap="butt"/>
<line x1="154.6" y1="1563.4" x2="1133.5" y2="1563.4" stroke="#000" stroke-width="2" stroke-linecap="butt"/>
<line x1="154.6" y1="1204.0" x2="165.0" y2="1204.0" stroke="#000" stroke-width="2" stroke-linecap="butt"/>
<text transform="translate(151.8 1214.5) scale(1 1.1)" font-size="25.7" font-weight="bold" text-anchor="end">1.75</text>
<line x1="154.6" y1="1255.3428571428572" x2="165.0" y2="1255.3428571428572" stroke="#000" stroke-width="2" stroke-linecap="butt"/>
<text transform="translate(151.8 1265.8428571428572) scale(1 1.1)" font-size="25.7" font-weight="bold" text-anchor="end">1.50</text>
<line x1="154.6" y1="1306.6857142857143" x2="165.0" y2="1306.6857142857143" stroke="#000" stroke-width="2" stroke-linecap="butt"/>
<text transform="translate(151.8 1317.1857142857143) scale(1 1.1)" font-size="25.7" font-weight="bold" text-anchor="end">1.25</text>
<line x1="154.6" y1="1358.0285714285715" x2="165.0" y2="1358.0285714285715" stroke="#000" stroke-width="2" stroke-linecap="butt"/>
<text transform="translate(151.8 1368.5285714285715) scale(1 1.1)" font-size="25.7" font-weight="bold" text-anchor="end">1.00</text>
<line x1="154.6" y1="1409.3714285714286" x2="165.0" y2="1409.3714285714286" stroke="#000" stroke-width="2" stroke-linecap="butt"/>
<text transform="translate(151.8 1419.8714285714286) scale(1 1.1)" font-size="25.7" font-weight="bold" text-anchor="end">0.75</text>
<line x1="154.6" y1="1460.7142857142858" x2="165.0" y2="1460.7142857142858" stroke="#000" stroke-width="2" stroke-linecap="butt"/>
<text transform="translate(151.8 1471.2142857142858) scale(1 1.1)" font-size="25.7" font-weight="bold" text-anchor="end">0.50</text>
<line x1="154.6" y1="1512.057142857143" x2="165.0" y2="1512.057142857143" stroke="#000" stroke-width="2" stroke-linecap="butt"/>
<text transform="translate(151.8 1522.557142857143) scale(1 1.1)" font-size="25.7" font-weight="bold" text-anchor="end">0.25</text>
<line x1="154.6" y1="1563.4" x2="165.0" y2="1563.4" stroke="#000" stroke-width="2" stroke-linecap="butt"/>
<text transform="translate(151.8 1573.9) scale(1 1.1)" font-size="25.7" font-weight="bold" text-anchor="end">0.00</text>
<line x1="188.6" y1="1563.4" x2="188.6" y2="1573.9" stroke="#000" stroke-width="1.8" stroke-linecap="butt"/>
<line x1="236.89999999999998" y1="1563.4" x2="236.89999999999998" y2="1573.9" stroke="#000" stroke-width="1.8" stroke-linecap="butt"/>
<line x1="285.2" y1="1563.4" x2="285.2" y2="1573.9" stroke="#000" stroke-width="1.8" stroke-linecap="butt"/>
<line x1="333.5" y1="1563.4" x2="333.5" y2="1573.9" stroke="#000" stroke-width="1.8" stroke-linecap="butt"/>
<line x1="381.79999999999995" y1="1563.4" x2="381.79999999999995" y2="1573.9" stroke="#000" stroke-width="1.8" stroke-linecap="butt"/>
<line x1="430.1" y1="1563.4" x2="430.1" y2="1573.9" stroke="#000" stroke-width="1.8" stroke-linecap="butt"/>
<line x1="478.4" y1="1563.4" x2="478.4" y2="1566.4" stroke="#000" stroke-width="1.8" stroke-linecap="butt"/>
<line x1="526.6999999999999" y1="1563.4" x2="526.6999999999999" y2="1573.9" stroke="#000" stroke-width="1.8" stroke-linecap="butt"/>
<line x1="575.0" y1="1563.4" x2="575.0" y2="1573.9" stroke="#000" stroke-width="1.8" stroke-linecap="butt"/>
<line x1="623.3" y1="1563.4" x2="623.3" y2="1573.9" stroke="#000" stroke-width="1.8" stroke-linecap="butt"/>
<line x1="671.6" y1="1563.4" x2="671.6" y2="1573.9" stroke="#000" stroke-width="1.8" stroke-linecap="butt"/>
<line x1="719.9" y1="1563.4" x2="719.9" y2="1573.9" stroke="#000" stroke-width="1.8" stroke-linecap="butt"/>
<line x1="768.1999999999999" y1="1563.4" x2="768.1999999999999" y2="1573.9" stroke="#000" stroke-width="1.8" stroke-linecap="butt"/>
<line x1="816.5" y1="1563.4" x2="816.5" y2="1573.9" stroke="#000" stroke-width="1.8" stroke-linecap="butt"/>
<line x1="864.8" y1="1563.4" x2="864.8" y2="1573.9" stroke="#000" stroke-width="1.8" stroke-linecap="butt"/>
<line x1="913.1" y1="1563.4" x2="913.1" y2="1573.9" stroke="#000" stroke-width="1.8" stroke-linecap="butt"/>
<line x1="961.4" y1="1563.4" x2="961.4" y2="1573.9" stroke="#000" stroke-width="1.8" stroke-linecap="butt"/>
<line x1="1009.6999999999999" y1="1563.4" x2="1009.6999999999999" y2="1573.9" stroke="#000" stroke-width="1.8" stroke-linecap="butt"/>
<line x1="1058.0" y1="1563.4" x2="1058.0" y2="1573.9" stroke="#000" stroke-width="1.8" stroke-linecap="butt"/>
<line x1="1106.3" y1="1563.4" x2="1106.3" y2="1573.9" stroke="#000" stroke-width="1.8" stroke-linecap="butt"/>
<line x1="188.6" y1="1344.6794285714286" x2="188.6" y2="1358.0285714285715" stroke="#000" stroke-width="1.6" stroke-linecap="butt"/>
<line x1="180.6" y1="1344.6794285714286" x2="196.6" y2="1344.6794285714286" stroke="#000" stroke-width="1.6" stroke-linecap="butt"/>
<line x1="236.89999999999998" y1="1318.5972571428572" x2="236.89999999999998" y2="1353.5104000000001" stroke="#000" stroke-width="1.6" stroke-linecap="butt"/>
<line x1="228.89999999999998" y1="1318.5972571428572" x2="244.89999999999998" y2="1318.5972571428572" stroke="#000" stroke-width="1.6" stroke-linecap="butt"/>
<rect x="172.35" y="1358.03" width="32.50" height="205.37" fill="#000"/>
<rect x="221.45" y="1354.31" width="30.90" height="209.09" fill="#fff" stroke="#000" stroke-width="1.6"/>
<text transform="translate(182.8 1598.2) scale(1 1.04)" font-size="24.2" font-weight="bold" text-anchor="start" letter-spacing="1.3">F4/80</text>
<line x1="333.5" y1="1326.606742857143" x2="333.5" y2="1358.0285714285715" stroke="#000" stroke-width="1.6" stroke-linecap="butt"/>
<line x1="325.5" y1="1326.606742857143" x2="341.5" y2="1326.606742857143" stroke="#000" stroke-width="1.6" stroke-linecap="butt"/>
<line x1="381.8" y1="1387.8074285714285" x2="381.8" y2="1407.9338285714286" stroke="#000" stroke-width="1.6" stroke-linecap="butt"/>
<line x1="373.8" y1="1387.8074285714285" x2="389.8" y2="1387.8074285714285" stroke="#000" stroke-width="1.6" stroke-linecap="butt"/>
<rect x="317.25" y="1358.03" width="32.50" height="205.37" fill="#000"/>
<rect x="366.35" y="1408.73" width="30.90" height="154.67" fill="#fff" stroke="#000" stroke-width="1.6"/>
<text transform="translate(323.8 1598.2) scale(1 1.04)" font-size="24.2" font-weight="bold" text-anchor="start" letter-spacing="1.3">Mcp1</text>
<line x1="478.4" y1="1328.6604571428572" x2="478.4" y2="1358.4393142857143" stroke="#000" stroke-width="1.6" stroke-linecap="butt"/>
<line x1="470.4" y1="1328.6604571428572" x2="486.4" y2="1328.6604571428572" stroke="#000" stroke-width="1.6" stroke-linecap="butt"/>
<line x1="526.6999999999999" y1="1386.3698285714286" x2="526.6999999999999" y2="1415.1218285714285" stroke="#000" stroke-width="1.6" stroke-linecap="butt"/>
<line x1="518.6999999999999" y1="1386.3698285714286" x2="534.6999999999999" y2="1386.3698285714286" stroke="#000" stroke-width="1.6" stroke-linecap="butt"/>
<rect x="462.15" y="1358.44" width="32.50" height="204.96" fill="#000"/>
<rect x="511.05" y="1415.72" width="31.30" height="147.68" fill="#fff" stroke="#6a6a6a" stroke-width="1.2"/>
<text transform="translate(480.7 1598.2) scale(1 1.04)" font-size="24.2" font-weight="bold" text-anchor="start" letter-spacing="1.3">Tnf</text>
<line x1="623.3" y1="1319.008" x2="623.3" y2="1358.0285714285715" stroke="#000" stroke-width="1.6" stroke-linecap="butt"/>
<line x1="615.3" y1="1319.008" x2="631.3" y2="1319.008" stroke="#000" stroke-width="1.6" stroke-linecap="butt"/>
<line x1="671.5999999999999" y1="1244.4581714285714" x2="671.5999999999999" y2="1299.4977142857142" stroke="#000" stroke-width="1.6" stroke-linecap="butt"/>
<line x1="663.5999999999999" y1="1244.4581714285714" x2="679.5999999999999" y2="1244.4581714285714" stroke="#000" stroke-width="1.6" stroke-linecap="butt"/>
<rect x="607.05" y="1358.03" width="32.50" height="205.37" fill="#000"/>
<rect x="656.15" y="1300.30" width="30.90" height="263.10" fill="#fff" stroke="#000" stroke-width="1.6"/>
<text transform="translate(610.1 1598.2) scale(1 1.04)" font-size="24.2" font-weight="bold" text-anchor="start" letter-spacing="1.3">Cd11c</text>
<line x1="768.1999999999999" y1="1297.033257142857" x2="768.1999999999999" y2="1358.0285714285715" stroke="#000" stroke-width="1.6" stroke-linecap="butt"/>
<line x1="760.1999999999999" y1="1297.033257142857" x2="776.1999999999999" y2="1297.033257142857" stroke="#000" stroke-width="1.6" stroke-linecap="butt"/>
<line x1="816.4999999999999" y1="1410.3982857142857" x2="816.4999999999999" y2="1436.6858285714286" stroke="#000" stroke-width="1.6" stroke-linecap="butt"/>
<line x1="808.4999999999999" y1="1410.3982857142857" x2="824.4999999999999" y2="1410.3982857142857" stroke="#000" stroke-width="1.6" stroke-linecap="butt"/>
<rect x="751.95" y="1358.03" width="32.50" height="205.37" fill="#000"/>
<rect x="801.05" y="1437.49" width="30.90" height="125.91" fill="#fff" stroke="#000" stroke-width="1.6"/>
<text transform="translate(766.5 1598.2) scale(1 1.04)" font-size="24.2" font-weight="bold" text-anchor="start" letter-spacing="1.3">IL-6</text>
<line x1="913.0999999999999" y1="1323.5261714285714" x2="913.0999999999999" y2="1358.0285714285715" stroke="#000" stroke-width="1.6" stroke-linecap="butt"/>
<line x1="905.0999999999999" y1="1323.5261714285714" x2="921.0999999999999" y2="1323.5261714285714" stroke="#000" stroke-width="1.6" stroke-linecap="butt"/>
<line x1="961.3999999999999" y1="1279.3713142857143" x2="961.3999999999999" y2="1317.5704" stroke="#000" stroke-width="1.6" stroke-linecap="butt"/>
<line x1="953.3999999999999" y1="1279.3713142857143" x2="969.3999999999999" y2="1279.3713142857143" stroke="#000" stroke-width="1.6" stroke-linecap="butt"/>
<rect x="896.85" y="1358.03" width="32.50" height="205.37" fill="#000"/>
<rect x="945.95" y="1318.37" width="30.90" height="245.03" fill="#fff" stroke="#000" stroke-width="1.6"/>
<text transform="translate(912.1 1598.2) scale(1 1.04)" font-size="24.2" font-weight="bold" text-anchor="start" letter-spacing="1.3">IL1<tspan font-weight="normal">β</tspan></text>
<line x1="1057.9999999999998" y1="1307.0964571428572" x2="1057.9999999999998" y2="1338.9290285714287" stroke="#000" stroke-width="1.6" stroke-linecap="butt"/>
<line x1="1049.9999999999998" y1="1307.0964571428572" x2="1065.9999999999998" y2="1307.0964571428572" stroke="#000" stroke-width="1.6" stroke-linecap="butt"/>
<line x1="1106.2999999999997" y1="1279.3713142857143" x2="1106.2999999999997" y2="1317.5704" stroke="#000" stroke-width="1.6" stroke-linecap="butt"/>
<line x1="1098.2999999999997" y1="1279.3713142857143" x2="1114.2999999999997" y2="1279.3713142857143" stroke="#000" stroke-width="1.6" stroke-linecap="butt"/>
<rect x="1041.75" y="1338.93" width="32.50" height="224.47" fill="#000"/>
<rect x="1090.85" y="1318.37" width="30.90" height="245.03" fill="#fff" stroke="#000" stroke-width="1.6"/>
<text transform="translate(1039.9 1598.2) scale(1 1.04)" font-size="24.2" font-weight="bold" text-anchor="start" letter-spacing="1.3">Col1a1</text>
<text transform="translate(50.6 1383) rotate(-90)" font-size="29.4" font-weight="bold" text-anchor="middle">Aortic expression</text>
<text transform="translate(86.2 1384.5) rotate(-90) scale(1 0.96)" font-size="29.8" font-weight="bold" text-anchor="middle" letter-spacing="0.45">(rel. to WT)</text>
<rect x="1189.70" y="1212.40" width="56.50" height="56.50" fill="#000" rx="4.5"/>
<rect x="1193.90" y="1289.00" width="48.00" height="47.20" fill="#fff" stroke="#000" stroke-width="8.4" rx="2"/>
<text transform="translate(1255.2 1258.9) scale(1 1.04)" font-size="44" font-weight="bold" text-anchor="start">WT</text>
<text transform="translate(1254.8 1329.3) scale(1 1.04)" font-size="44" font-weight="bold" text-anchor="start">KO</text>
</svg>
</body>
</html>
